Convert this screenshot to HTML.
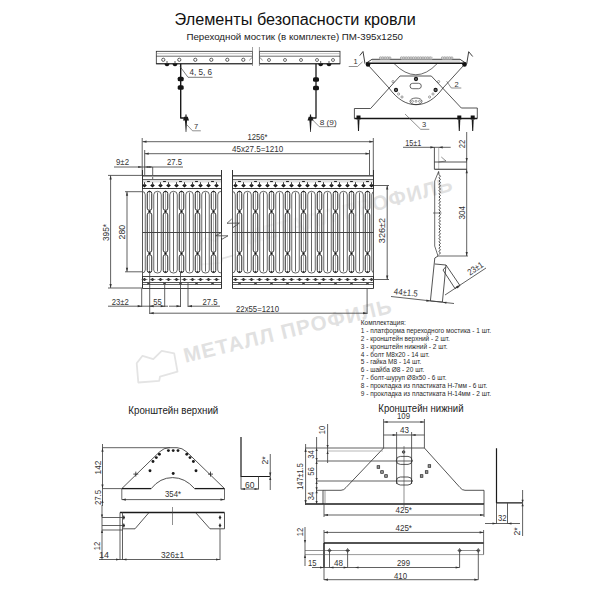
<!DOCTYPE html>
<html><head><meta charset="utf-8"><style>
html,body{margin:0;padding:0;background:#fff;width:600px;height:600px;overflow:hidden}
svg{display:block;font-family:"Liberation Sans",sans-serif}
</style></head><body>
<svg width="600" height="600" viewBox="0 0 600 600">
<rect width="600" height="600" fill="#fff"/>
<polygon points="136.70,363.30 142.50,355.80 153.30,359.20 161.70,350.80 174.20,353.30 177.50,371.70 160.00,376.70 159.20,380.80 138.30,382.50" stroke="#e4e4e4" stroke-width="1.8" fill="none" stroke-linejoin="round" />
<text x="185.50" y="362.80" font-size="20.5" fill="#e1e1e1" font-weight="bold" transform="rotate(-13.6 185.50 362.80)" textLength="213" lengthAdjust="spacing">МЕТАЛЛ ПРОФИЛЬ</text>
<polygon points="198.70,245.30 204.50,237.80 215.30,241.20 223.70,232.80 236.20,235.30 239.50,253.70 222.00,258.70 221.20,262.80 200.30,264.50" stroke="#e4e4e4" stroke-width="1.8" fill="none" stroke-linejoin="round" />
<text x="247.50" y="244.80" font-size="20.5" fill="#e1e1e1" font-weight="bold" transform="rotate(-14.8 247.50 244.80)" textLength="213" lengthAdjust="spacing">МЕТАЛЛ ПРОФИЛЬ</text>
<text x="174.60" y="24.50" font-size="15.8" text-anchor="start" fill="#111" font-weight="normal" textLength="241.2" lengthAdjust="spacingAndGlyphs" >Элементы безопасности кровли</text>
<text x="186.40" y="39.80" font-size="9.6" text-anchor="start" fill="#222" font-weight="normal" textLength="216.6" lengthAdjust="spacingAndGlyphs" >Переходной мостик (в комплекте) ПМ-395х1250</text>
<rect x="156.30" y="51.30" width="96.20" height="12.50" rx="0" stroke="#2a2a2a" stroke-width="0.8" fill="white"/>
<line x1="156.30" y1="53.60" x2="252.50" y2="53.60" stroke="#888" stroke-width="0.5" />
<line x1="156.30" y1="56.20" x2="252.50" y2="56.20" stroke="#2a2a2a" stroke-width="0.7" />
<line x1="156.30" y1="63.80" x2="252.50" y2="63.80" stroke="#2a2a2a" stroke-width="1.1" />
<rect x="259.40" y="51.30" width="80.60" height="12.50" rx="0" stroke="#2a2a2a" stroke-width="0.8" fill="white"/>
<line x1="259.40" y1="53.60" x2="340.00" y2="53.60" stroke="#888" stroke-width="0.5" />
<line x1="259.40" y1="56.20" x2="340.00" y2="56.20" stroke="#2a2a2a" stroke-width="0.7" />
<line x1="259.40" y1="63.80" x2="340.00" y2="63.80" stroke="#2a2a2a" stroke-width="1.1" />
<circle cx="163.30" cy="59.80" r="1.6" stroke="#333" stroke-width="0.8" fill="none"/>
<circle cx="179.30" cy="59.80" r="1.6" stroke="#333" stroke-width="0.8" fill="none"/>
<circle cx="195.30" cy="59.80" r="1.6" stroke="#333" stroke-width="0.8" fill="none"/>
<circle cx="211.30" cy="59.80" r="1.6" stroke="#333" stroke-width="0.8" fill="none"/>
<circle cx="227.30" cy="59.80" r="1.6" stroke="#333" stroke-width="0.8" fill="none"/>
<circle cx="243.30" cy="59.80" r="1.6" stroke="#333" stroke-width="0.8" fill="none"/>
<circle cx="269.00" cy="60.00" r="1.5" stroke="#333" stroke-width="0.7" fill="none"/>
<circle cx="285.00" cy="60.00" r="1.5" stroke="#333" stroke-width="0.7" fill="none"/>
<circle cx="301.00" cy="60.00" r="1.5" stroke="#333" stroke-width="0.7" fill="none"/>
<circle cx="317.00" cy="60.00" r="1.5" stroke="#333" stroke-width="0.7" fill="none"/>
<circle cx="333.00" cy="60.00" r="1.5" stroke="#333" stroke-width="0.7" fill="none"/>
<line x1="252.50" y1="47.00" x2="252.50" y2="66.00" stroke="#777" stroke-width="0.7" />
<line x1="259.40" y1="47.00" x2="259.40" y2="66.00" stroke="#777" stroke-width="0.7" />
<path d="M252.5,57.5 q-2,0.5 -3,3" stroke="#555" stroke-width="0.6" fill="none" />
<path d="M259.4,57.5 q2,0.5 3,3" stroke="#555" stroke-width="0.6" fill="none" />
<path d="M164.6,63.6 A2.4,2.6 0 0 0 169.4,63.6 Z" stroke="#3a3a3a" stroke-width="0" fill="#151515" />
<line x1="167.00" y1="61.00" x2="167.00" y2="64.00" stroke="#333" stroke-width="0.8" />
<path d="M172.6,63.6 A2.4,2.6 0 0 0 177.4,63.6 Z" stroke="#3a3a3a" stroke-width="0" fill="#151515" />
<line x1="175.00" y1="61.00" x2="175.00" y2="64.00" stroke="#333" stroke-width="0.8" />
<path d="M318.3,63.6 A2.4,2.6 0 0 0 323.09999999999997,63.6 Z" stroke="#3a3a3a" stroke-width="0" fill="#151515" />
<line x1="320.70" y1="61.00" x2="320.70" y2="64.00" stroke="#333" stroke-width="0.8" />
<path d="M326.6,63.6 A2.4,2.6 0 0 0 331.4,63.6 Z" stroke="#3a3a3a" stroke-width="0" fill="#151515" />
<line x1="329.00" y1="61.00" x2="329.00" y2="64.00" stroke="#333" stroke-width="0.8" />
<polyline points="180.70,63.80 180.70,118.00 186.00,118.00" stroke="#1a1a1a" stroke-width="1.4" fill="none" stroke-linejoin="round" />
<polyline points="316.00,63.80 316.00,118.00 310.40,118.00" stroke="#1a1a1a" stroke-width="1.3" fill="none" stroke-linejoin="round" />
<rect x="177.70" y="76.70" width="6.00" height="4.60" rx="1.6" stroke="#3a3a3a" stroke-width="0" fill="#151515"/>
<rect x="177.70" y="85.20" width="6.00" height="4.60" rx="1.6" stroke="#3a3a3a" stroke-width="0" fill="#151515"/>
<rect x="313.00" y="77.20" width="6.00" height="4.60" rx="1.6" stroke="#3a3a3a" stroke-width="0" fill="#151515"/>
<rect x="313.00" y="85.70" width="6.00" height="4.60" rx="1.6" stroke="#3a3a3a" stroke-width="0" fill="#151515"/>
<path d="M183,120.5 L189,120.5 L187.8,116.8 L184.2,116.8 Z" stroke="#3a3a3a" stroke-width="0" fill="#1a1a1a" />
<line x1="186.00" y1="114.50" x2="186.00" y2="118.50" stroke="#1a1a1a" stroke-width="1.2" />
<path d="M184.9,120 L187.1,120 L186.3,132 L185.7,132 Z" stroke="#3a3a3a" stroke-width="0" fill="#1a1a1a" />
<path d="M307.5,120.5 L313.5,120.5 L312.3,116.8 L308.7,116.8 Z" stroke="#3a3a3a" stroke-width="0" fill="#1a1a1a" />
<line x1="310.50" y1="114.50" x2="310.50" y2="118.50" stroke="#1a1a1a" stroke-width="1.2" />
<path d="M309.4,120 L311.6,120 L310.8,132 L310.2,132 Z" stroke="#3a3a3a" stroke-width="0" fill="#1a1a1a" />
<polyline points="180.00,66.50 188.00,77.30 212.50,77.30" stroke="#444" stroke-width="0.7" fill="none" stroke-linejoin="round" />
<text x="189.50" y="74.80" font-size="8.2" text-anchor="start" fill="#333" font-weight="normal" textLength="22.5" lengthAdjust="spacingAndGlyphs" >4, 5, 6</text>
<polyline points="185.80,123.70 192.50,130.80 200.80,130.80" stroke="#444" stroke-width="0.6" fill="none" stroke-linejoin="round" />
<text x="194.00" y="129.20" font-size="7.5" text-anchor="start" fill="#333" font-weight="normal" >7</text>
<polyline points="312.00,119.30 319.30,126.70 336.00,126.70" stroke="#444" stroke-width="0.6" fill="none" stroke-linejoin="round" />
<text x="319.70" y="125.00" font-size="7.5" text-anchor="start" fill="#333" font-weight="normal" textLength="17" lengthAdjust="spacingAndGlyphs" >8 (9)</text>
<path d="M354.4,118.5 L354.4,108.5 L370.6,108.5 L400,76 L431.3,76 L461.3,108 L477.3,108 L477.3,118.5" stroke="#2a2a2a" stroke-width="0.8" fill="none" />
<path d="M368,65 L389,88 C397,99 406,104.7 416,104.7 C426,104.7 435,99 443,88 L464,65" stroke="#2a2a2a" stroke-width="0.8" fill="none" />
<path d="M394,63.5 Q416,86 437.3,63.5" stroke="#2a2a2a" stroke-width="0.7" fill="none" />
<path d="M366,63.3 L372,59.3 L460,59.3 L466,63.3" stroke="#2a2a2a" stroke-width="0.9" fill="none" />
<line x1="366.00" y1="63.30" x2="466.00" y2="63.30" stroke="#151515" stroke-width="1.5" />
<line x1="372.00" y1="61.00" x2="460.00" y2="61.00" stroke="#777" stroke-width="0.5" />
<rect x="379.00" y="56.60" width="12.00" height="2.80" rx="1.4" stroke="#3a3a3a" stroke-width="0" fill="#d5d5d5"/>
<circle cx="380.40" cy="58.00" r="1.05" stroke="#777" stroke-width="0.5" fill="#eee"/>
<circle cx="382.80" cy="58.00" r="1.05" stroke="#777" stroke-width="0.5" fill="#eee"/>
<circle cx="385.20" cy="58.00" r="1.05" stroke="#777" stroke-width="0.5" fill="#eee"/>
<circle cx="387.60" cy="58.00" r="1.05" stroke="#777" stroke-width="0.5" fill="#eee"/>
<circle cx="390.00" cy="58.00" r="1.05" stroke="#777" stroke-width="0.5" fill="#eee"/>
<rect x="400.00" y="56.60" width="33.00" height="2.80" rx="1.4" stroke="#3a3a3a" stroke-width="0" fill="#d5d5d5"/>
<circle cx="401.40" cy="58.00" r="1.05" stroke="#777" stroke-width="0.5" fill="#eee"/>
<circle cx="403.80" cy="58.00" r="1.05" stroke="#777" stroke-width="0.5" fill="#eee"/>
<circle cx="406.20" cy="58.00" r="1.05" stroke="#777" stroke-width="0.5" fill="#eee"/>
<circle cx="408.60" cy="58.00" r="1.05" stroke="#777" stroke-width="0.5" fill="#eee"/>
<circle cx="411.00" cy="58.00" r="1.05" stroke="#777" stroke-width="0.5" fill="#eee"/>
<circle cx="413.40" cy="58.00" r="1.05" stroke="#777" stroke-width="0.5" fill="#eee"/>
<circle cx="415.80" cy="58.00" r="1.05" stroke="#777" stroke-width="0.5" fill="#eee"/>
<circle cx="418.20" cy="58.00" r="1.05" stroke="#777" stroke-width="0.5" fill="#eee"/>
<circle cx="420.60" cy="58.00" r="1.05" stroke="#777" stroke-width="0.5" fill="#eee"/>
<circle cx="423.00" cy="58.00" r="1.05" stroke="#777" stroke-width="0.5" fill="#eee"/>
<circle cx="425.40" cy="58.00" r="1.05" stroke="#777" stroke-width="0.5" fill="#eee"/>
<circle cx="427.80" cy="58.00" r="1.05" stroke="#777" stroke-width="0.5" fill="#eee"/>
<circle cx="430.20" cy="58.00" r="1.05" stroke="#777" stroke-width="0.5" fill="#eee"/>
<rect x="441.00" y="56.60" width="12.00" height="2.80" rx="1.4" stroke="#3a3a3a" stroke-width="0" fill="#d5d5d5"/>
<circle cx="442.40" cy="58.00" r="1.05" stroke="#777" stroke-width="0.5" fill="#eee"/>
<circle cx="444.80" cy="58.00" r="1.05" stroke="#777" stroke-width="0.5" fill="#eee"/>
<circle cx="447.20" cy="58.00" r="1.05" stroke="#777" stroke-width="0.5" fill="#eee"/>
<circle cx="449.60" cy="58.00" r="1.05" stroke="#777" stroke-width="0.5" fill="#eee"/>
<circle cx="452.00" cy="58.00" r="1.05" stroke="#777" stroke-width="0.5" fill="#eee"/>
<polyline points="359.75,55.60 363.00,51.50 365.00,63.75" stroke="#2a2a2a" stroke-width="0.9" fill="none" stroke-linejoin="round" />
<polyline points="466.70,64.00 468.70,51.70 472.70,56.50" stroke="#2a2a2a" stroke-width="0.9" fill="none" stroke-linejoin="round" />
<circle cx="368.00" cy="64.50" r="2.3" stroke="#3a3a3a" stroke-width="0" fill="#111"/>
<circle cx="464.50" cy="64.50" r="2.3" stroke="#3a3a3a" stroke-width="0" fill="#111"/>
<circle cx="416.00" cy="79.00" r="1.6" stroke="#1a1a1a" stroke-width="1.1" fill="#666"/>
<circle cx="396.00" cy="90.00" r="1.6" stroke="#1a1a1a" stroke-width="1.1" fill="#666"/>
<circle cx="435.60" cy="90.00" r="1.6" stroke="#1a1a1a" stroke-width="1.1" fill="#666"/>
<circle cx="393.00" cy="81.60" r="1.1" stroke="#444" stroke-width="0.5" fill="none"/>
<circle cx="438.60" cy="81.60" r="1.1" stroke="#444" stroke-width="0.5" fill="none"/>
<circle cx="398.60" cy="94.00" r="1.1" stroke="#444" stroke-width="0.5" fill="none"/>
<circle cx="402.00" cy="97.00" r="1.1" stroke="#444" stroke-width="0.5" fill="none"/>
<circle cx="433.00" cy="94.00" r="1.1" stroke="#444" stroke-width="0.5" fill="none"/>
<circle cx="429.60" cy="97.00" r="1.1" stroke="#444" stroke-width="0.5" fill="none"/>
<rect x="410.00" y="83.30" width="11.30" height="5.40" rx="2.7" stroke="#2a2a2a" stroke-width="0.7" fill="none"/>
<ellipse cx="416.00" cy="101.30" rx="6" ry="3.3" stroke="#2a2a2a" stroke-width="0.7" fill="none"/>
<circle cx="412.50" cy="101.30" r="1.0" stroke="#444" stroke-width="0.5" fill="none"/>
<circle cx="416.00" cy="101.30" r="1.0" stroke="#444" stroke-width="0.5" fill="none"/>
<circle cx="419.50" cy="101.30" r="1.0" stroke="#444" stroke-width="0.5" fill="none"/>
<line x1="354.40" y1="118.50" x2="477.30" y2="118.50" stroke="#151515" stroke-width="1.5" />
<rect x="356.50" y="115.50" width="4.00" height="4.00" rx="0" stroke="#3a3a3a" stroke-width="0" fill="#111"/>
<path d="M357.5,119.5 L359.5,119.5 L359.0,131 L358.0,131 Z" stroke="#3a3a3a" stroke-width="0" fill="#1a1a1a" />
<rect x="457.30" y="115.50" width="4.00" height="4.00" rx="0" stroke="#3a3a3a" stroke-width="0" fill="#111"/>
<path d="M458.3,119.5 L460.3,119.5 L459.8,131 L458.8,131 Z" stroke="#3a3a3a" stroke-width="0" fill="#1a1a1a" />
<rect x="470.70" y="115.50" width="4.00" height="4.00" rx="0" stroke="#3a3a3a" stroke-width="0" fill="#111"/>
<path d="M471.7,119.5 L473.7,119.5 L473.2,131 L472.2,131 Z" stroke="#3a3a3a" stroke-width="0" fill="#1a1a1a" />
<polyline points="348.75,66.50 357.50,66.50 362.50,61.90" stroke="#444" stroke-width="0.6" fill="none" stroke-linejoin="round" />
<text x="353.50" y="64.40" font-size="7.5" text-anchor="start" fill="#333" font-weight="normal" >1</text>
<polyline points="446.70,81.30 451.30,88.00 461.30,88.00" stroke="#444" stroke-width="0.6" fill="none" stroke-linejoin="round" />
<text x="454.50" y="86.70" font-size="7.5" text-anchor="start" fill="#333" font-weight="normal" >2</text>
<polyline points="405.00,114.00 420.70,129.30 429.30,129.30" stroke="#444" stroke-width="0.6" fill="none" stroke-linejoin="round" />
<text x="422.00" y="127.30" font-size="7.5" text-anchor="start" fill="#333" font-weight="normal" >3</text>
<line x1="142.50" y1="141.70" x2="373.30" y2="141.70" stroke="#444" stroke-width="0.85" />
<polygon points="142.50,141.70 146.50,140.60 146.50,142.80" fill="#333"/>
<polygon points="373.30,141.70 369.30,142.80 369.30,140.60" fill="#333"/>
<text x="247.50" y="140.00" font-size="9" text-anchor="start" fill="#333" font-weight="normal" textLength="20" lengthAdjust="spacingAndGlyphs" >1256*</text>
<line x1="144.70" y1="153.70" x2="369.50" y2="153.70" stroke="#444" stroke-width="0.85" />
<polygon points="144.70,153.70 148.70,152.60 148.70,154.80" fill="#333"/>
<polygon points="369.50,153.70 365.50,154.80 365.50,152.60" fill="#333"/>
<text x="232.00" y="151.80" font-size="9" text-anchor="start" fill="#333" font-weight="normal" textLength="51.3" lengthAdjust="spacingAndGlyphs" >45x27.5=1210</text>
<line x1="142.20" y1="138.00" x2="142.20" y2="175.00" stroke="#444" stroke-width="0.85" />
<line x1="144.70" y1="150.00" x2="144.70" y2="175.00" stroke="#444" stroke-width="0.85" />
<line x1="373.30" y1="138.00" x2="373.30" y2="175.00" stroke="#444" stroke-width="0.85" />
<line x1="369.50" y1="150.00" x2="369.50" y2="175.00" stroke="#444" stroke-width="0.85" />
<line x1="114.00" y1="167.00" x2="183.00" y2="167.00" stroke="#444" stroke-width="0.85" />
<polygon points="142.20,167.00 138.20,168.10 138.20,165.90" fill="#333"/>
<polygon points="144.70,167.00 148.70,165.90 148.70,168.10" fill="#333"/>
<polygon points="152.70,167.00 149.20,168.10 149.20,165.90" fill="#333"/>
<text x="116.00" y="165.00" font-size="9" text-anchor="start" fill="#333" font-weight="normal" textLength="13" lengthAdjust="spacingAndGlyphs" >9±2</text>
<text x="167.00" y="165.00" font-size="9" text-anchor="start" fill="#333" font-weight="normal" textLength="15" lengthAdjust="spacingAndGlyphs" >27.5</text>
<line x1="152.70" y1="167.00" x2="152.70" y2="185.00" stroke="#444" stroke-width="0.85" />
<line x1="110.60" y1="175.40" x2="110.60" y2="288.00" stroke="#444" stroke-width="0.85" />
<polygon points="110.60,175.40 111.70,179.40 109.50,179.40" fill="#333"/>
<polygon points="110.60,288.00 109.50,284.00 111.70,284.00" fill="#333"/>
<line x1="108.00" y1="175.40" x2="142.20" y2="175.40" stroke="#444" stroke-width="0.85" />
<line x1="108.00" y1="288.00" x2="142.20" y2="288.00" stroke="#444" stroke-width="0.85" />
<text x="108.50" y="232.50" font-size="9" text-anchor="middle" fill="#333" font-weight="normal" transform="rotate(-90 108.50 232.50)" textLength="17" lengthAdjust="spacingAndGlyphs" >395*</text>
<line x1="127.00" y1="191.70" x2="127.00" y2="271.80" stroke="#444" stroke-width="0.85" />
<polygon points="127.00,191.70 128.10,195.70 125.90,195.70" fill="#333"/>
<polygon points="127.00,271.80 125.90,267.80 128.10,267.80" fill="#333"/>
<line x1="125.00" y1="191.70" x2="142.20" y2="191.70" stroke="#444" stroke-width="0.85" />
<line x1="125.00" y1="271.80" x2="142.20" y2="271.80" stroke="#444" stroke-width="0.85" />
<text x="125.00" y="232.20" font-size="9" text-anchor="middle" fill="#333" font-weight="normal" transform="rotate(-90 125.00 232.20)" textLength="14.5" lengthAdjust="spacingAndGlyphs" >280</text>
<line x1="373.30" y1="185.50" x2="389.00" y2="185.50" stroke="#444" stroke-width="0.85" />
<line x1="373.30" y1="279.50" x2="389.00" y2="279.50" stroke="#444" stroke-width="0.85" />
<line x1="387.20" y1="185.50" x2="387.20" y2="279.50" stroke="#444" stroke-width="0.85" />
<polygon points="387.20,185.50 388.30,189.50 386.10,189.50" fill="#333"/>
<polygon points="387.20,279.50 386.10,275.50 388.30,275.50" fill="#333"/>
<text x="385.00" y="230.50" font-size="9.4" text-anchor="middle" fill="#333" font-weight="normal" transform="rotate(-90 385.00 230.50)" textLength="25.3" lengthAdjust="spacingAndGlyphs" >326±2</text>
<line x1="142.50" y1="175.50" x2="221.50" y2="175.50" stroke="#555" stroke-width="1" />
<rect x="142.50" y="176.00" width="79.00" height="1.00" rx="0" stroke="#3a3a3a" stroke-width="0" fill="#a0a0a0"/>
<line x1="142.50" y1="179.50" x2="221.50" y2="179.50" stroke="#666" stroke-width="1" />
<rect x="142.50" y="180.00" width="79.00" height="2.50" rx="0" stroke="#3a3a3a" stroke-width="0" fill="#e0e0e0"/>
<line x1="142.50" y1="188.50" x2="221.50" y2="188.50" stroke="#333" stroke-width="1" />
<line x1="142.50" y1="276.50" x2="221.50" y2="276.50" stroke="#444" stroke-width="1" />
<line x1="142.50" y1="282.50" x2="221.50" y2="282.50" stroke="#555" stroke-width="1" />
<line x1="142.50" y1="284.50" x2="221.50" y2="284.50" stroke="#666" stroke-width="1" />
<line x1="142.50" y1="288.50" x2="221.50" y2="288.50" stroke="#444" stroke-width="1" />
<line x1="142.50" y1="170.00" x2="142.50" y2="288.50" stroke="#333" stroke-width="1" />
<line x1="221.50" y1="170.00" x2="221.50" y2="288.50" stroke="#333" stroke-width="1" />
<path d="M142.2,185.5 L144.5,183.6 L146.8,185.5 L144.5,187.4 Z" stroke="#3a3a3a" stroke-width="0" fill="#151515" />
<line x1="144.50" y1="182.20" x2="144.50" y2="185.50" stroke="#444" stroke-width="1" />
<path d="M142.2,279.5 L144.5,277.9 L146.8,279.5 L144.5,281.1 Z" stroke="#3a3a3a" stroke-width="0" fill="#151515" />
<line x1="141.30" y1="279.50" x2="147.70" y2="279.50" stroke="#666" stroke-width="0.5" />
<line x1="147.10" y1="181.50" x2="149.90" y2="181.50" stroke="#222" stroke-width="1.1" />
<path d="M147.0,282.8 L150.0,284.2 M147.0,284.2 L150.0,282.8" stroke="#333" stroke-width="0.8" fill="none" />
<path d="M150.2,185.5 L152.5,183.6 L154.8,185.5 L152.5,187.4 Z" stroke="#3a3a3a" stroke-width="0" fill="#151515" />
<line x1="152.50" y1="182.20" x2="152.50" y2="185.50" stroke="#444" stroke-width="1" />
<path d="M150.2,279.5 L152.5,277.9 L154.8,279.5 L152.5,281.1 Z" stroke="#3a3a3a" stroke-width="0" fill="#151515" />
<line x1="149.30" y1="279.50" x2="155.70" y2="279.50" stroke="#666" stroke-width="0.5" />
<path d="M158.2,185.5 L160.5,183.6 L162.8,185.5 L160.5,187.4 Z" stroke="#3a3a3a" stroke-width="0" fill="#151515" />
<line x1="160.50" y1="182.20" x2="160.50" y2="185.50" stroke="#444" stroke-width="1" />
<path d="M158.2,279.5 L160.5,277.9 L162.8,279.5 L160.5,281.1 Z" stroke="#3a3a3a" stroke-width="0" fill="#151515" />
<line x1="157.30" y1="279.50" x2="163.70" y2="279.50" stroke="#666" stroke-width="0.5" />
<line x1="163.10" y1="181.50" x2="165.90" y2="181.50" stroke="#222" stroke-width="1.1" />
<path d="M163.0,282.8 L166.0,284.2 M163.0,284.2 L166.0,282.8" stroke="#333" stroke-width="0.8" fill="none" />
<path d="M166.2,185.5 L168.5,183.6 L170.8,185.5 L168.5,187.4 Z" stroke="#3a3a3a" stroke-width="0" fill="#151515" />
<line x1="168.50" y1="182.20" x2="168.50" y2="185.50" stroke="#444" stroke-width="1" />
<path d="M166.2,279.5 L168.5,277.9 L170.8,279.5 L168.5,281.1 Z" stroke="#3a3a3a" stroke-width="0" fill="#151515" />
<line x1="165.30" y1="279.50" x2="171.70" y2="279.50" stroke="#666" stroke-width="0.5" />
<path d="M174.2,185.5 L176.5,183.6 L178.8,185.5 L176.5,187.4 Z" stroke="#3a3a3a" stroke-width="0" fill="#151515" />
<line x1="176.50" y1="182.20" x2="176.50" y2="185.50" stroke="#444" stroke-width="1" />
<path d="M174.2,279.5 L176.5,277.9 L178.8,279.5 L176.5,281.1 Z" stroke="#3a3a3a" stroke-width="0" fill="#151515" />
<line x1="173.30" y1="279.50" x2="179.70" y2="279.50" stroke="#666" stroke-width="0.5" />
<line x1="179.10" y1="181.50" x2="181.90" y2="181.50" stroke="#222" stroke-width="1.1" />
<path d="M179.0,282.8 L182.0,284.2 M179.0,284.2 L182.0,282.8" stroke="#333" stroke-width="0.8" fill="none" />
<path d="M182.2,185.5 L184.5,183.6 L186.8,185.5 L184.5,187.4 Z" stroke="#3a3a3a" stroke-width="0" fill="#151515" />
<line x1="184.50" y1="182.20" x2="184.50" y2="185.50" stroke="#444" stroke-width="1" />
<path d="M182.2,279.5 L184.5,277.9 L186.8,279.5 L184.5,281.1 Z" stroke="#3a3a3a" stroke-width="0" fill="#151515" />
<line x1="181.30" y1="279.50" x2="187.70" y2="279.50" stroke="#666" stroke-width="0.5" />
<path d="M190.2,185.5 L192.5,183.6 L194.8,185.5 L192.5,187.4 Z" stroke="#3a3a3a" stroke-width="0" fill="#151515" />
<line x1="192.50" y1="182.20" x2="192.50" y2="185.50" stroke="#444" stroke-width="1" />
<path d="M190.2,279.5 L192.5,277.9 L194.8,279.5 L192.5,281.1 Z" stroke="#3a3a3a" stroke-width="0" fill="#151515" />
<line x1="189.30" y1="279.50" x2="195.70" y2="279.50" stroke="#666" stroke-width="0.5" />
<line x1="195.10" y1="181.50" x2="197.90" y2="181.50" stroke="#222" stroke-width="1.1" />
<path d="M195.0,282.8 L198.0,284.2 M195.0,284.2 L198.0,282.8" stroke="#333" stroke-width="0.8" fill="none" />
<path d="M198.2,185.5 L200.5,183.6 L202.8,185.5 L200.5,187.4 Z" stroke="#3a3a3a" stroke-width="0" fill="#151515" />
<line x1="200.50" y1="182.20" x2="200.50" y2="185.50" stroke="#444" stroke-width="1" />
<path d="M198.2,279.5 L200.5,277.9 L202.8,279.5 L200.5,281.1 Z" stroke="#3a3a3a" stroke-width="0" fill="#151515" />
<line x1="197.30" y1="279.50" x2="203.70" y2="279.50" stroke="#666" stroke-width="0.5" />
<path d="M206.2,185.5 L208.5,183.6 L210.8,185.5 L208.5,187.4 Z" stroke="#3a3a3a" stroke-width="0" fill="#151515" />
<line x1="208.50" y1="182.20" x2="208.50" y2="185.50" stroke="#444" stroke-width="1" />
<path d="M206.2,279.5 L208.5,277.9 L210.8,279.5 L208.5,281.1 Z" stroke="#3a3a3a" stroke-width="0" fill="#151515" />
<line x1="205.30" y1="279.50" x2="211.70" y2="279.50" stroke="#666" stroke-width="0.5" />
<line x1="211.10" y1="181.50" x2="213.90" y2="181.50" stroke="#222" stroke-width="1.1" />
<path d="M211.0,282.8 L214.0,284.2 M211.0,284.2 L214.0,282.8" stroke="#333" stroke-width="0.8" fill="none" />
<path d="M214.2,185.5 L216.5,183.6 L218.8,185.5 L216.5,187.4 Z" stroke="#3a3a3a" stroke-width="0" fill="#151515" />
<line x1="216.50" y1="182.20" x2="216.50" y2="185.50" stroke="#444" stroke-width="1" />
<path d="M214.2,279.5 L216.5,277.9 L218.8,279.5 L216.5,281.1 Z" stroke="#3a3a3a" stroke-width="0" fill="#151515" />
<line x1="213.30" y1="279.50" x2="219.70" y2="279.50" stroke="#666" stroke-width="0.5" />
<clipPath id="clip142"><rect x="142.5" y="189" width="79.0" height="87"/></clipPath>
<g clip-path="url(#clip142)">
<rect x="142.5" y="189" width="79.0" height="87" fill="rgba(255,255,255,0.7)"/>
<path d="M137.75,270 L137.75,194.8 Q137.75,191.3 141.5,191.3 Q145.25,191.3 145.25,194.8 L145.25,270 Q145.25,273 141.5,273 Q137.75,273 137.75,270" stroke="#555" stroke-width="0.9" fill="none" />
<line x1="141.50" y1="192.50" x2="141.50" y2="271.50" stroke="#555" stroke-width="0.9" />
<rect x="147.25" y="191.30" width="4.50" height="19.10" rx="2.25" stroke="#2a2a2a" stroke-width="1.0" fill="none"/>
<rect x="147.25" y="212.60" width="4.50" height="39.80" rx="2.25" stroke="#2a2a2a" stroke-width="1.0" fill="none"/>
<rect x="147.25" y="254.60" width="4.50" height="18.00" rx="2.25" stroke="#2a2a2a" stroke-width="1.0" fill="none"/>
<line x1="149.50" y1="193.00" x2="149.50" y2="271.00" stroke="#777" stroke-width="0.6" />
<ellipse cx="149.50" cy="211.50" rx="1.2" ry="1.1" stroke="#3a3a3a" stroke-width="0" fill="#111"/>
<ellipse cx="149.50" cy="253.50" rx="1.2" ry="1.1" stroke="#3a3a3a" stroke-width="0" fill="#111"/>
<circle cx="149.50" cy="191.60" r="0.9" stroke="#3a3a3a" stroke-width="0" fill="#222"/>
<circle cx="149.50" cy="271.80" r="0.9" stroke="#3a3a3a" stroke-width="0" fill="#222"/>
<path d="M153.75,270 L153.75,194.8 Q153.75,191.3 157.5,191.3 Q161.25,191.3 161.25,194.8 L161.25,270 Q161.25,273 157.5,273 Q153.75,273 153.75,270" stroke="#555" stroke-width="0.9" fill="none" />
<line x1="157.50" y1="192.50" x2="157.50" y2="271.50" stroke="#555" stroke-width="0.9" />
<rect x="163.25" y="191.30" width="4.50" height="19.10" rx="2.25" stroke="#2a2a2a" stroke-width="1.0" fill="none"/>
<rect x="163.25" y="212.60" width="4.50" height="39.80" rx="2.25" stroke="#2a2a2a" stroke-width="1.0" fill="none"/>
<rect x="163.25" y="254.60" width="4.50" height="18.00" rx="2.25" stroke="#2a2a2a" stroke-width="1.0" fill="none"/>
<line x1="165.50" y1="193.00" x2="165.50" y2="271.00" stroke="#777" stroke-width="0.6" />
<ellipse cx="165.50" cy="211.50" rx="1.2" ry="1.1" stroke="#3a3a3a" stroke-width="0" fill="#111"/>
<ellipse cx="165.50" cy="253.50" rx="1.2" ry="1.1" stroke="#3a3a3a" stroke-width="0" fill="#111"/>
<circle cx="165.50" cy="191.60" r="0.9" stroke="#3a3a3a" stroke-width="0" fill="#222"/>
<circle cx="165.50" cy="271.80" r="0.9" stroke="#3a3a3a" stroke-width="0" fill="#222"/>
<path d="M169.75,270 L169.75,194.8 Q169.75,191.3 173.5,191.3 Q177.25,191.3 177.25,194.8 L177.25,270 Q177.25,273 173.5,273 Q169.75,273 169.75,270" stroke="#555" stroke-width="0.9" fill="none" />
<line x1="173.50" y1="192.50" x2="173.50" y2="271.50" stroke="#555" stroke-width="0.9" />
<rect x="179.25" y="191.30" width="4.50" height="19.10" rx="2.25" stroke="#2a2a2a" stroke-width="1.0" fill="none"/>
<rect x="179.25" y="212.60" width="4.50" height="39.80" rx="2.25" stroke="#2a2a2a" stroke-width="1.0" fill="none"/>
<rect x="179.25" y="254.60" width="4.50" height="18.00" rx="2.25" stroke="#2a2a2a" stroke-width="1.0" fill="none"/>
<line x1="181.50" y1="193.00" x2="181.50" y2="271.00" stroke="#777" stroke-width="0.6" />
<ellipse cx="181.50" cy="211.50" rx="1.2" ry="1.1" stroke="#3a3a3a" stroke-width="0" fill="#111"/>
<ellipse cx="181.50" cy="253.50" rx="1.2" ry="1.1" stroke="#3a3a3a" stroke-width="0" fill="#111"/>
<circle cx="181.50" cy="191.60" r="0.9" stroke="#3a3a3a" stroke-width="0" fill="#222"/>
<circle cx="181.50" cy="271.80" r="0.9" stroke="#3a3a3a" stroke-width="0" fill="#222"/>
<path d="M185.75,270 L185.75,194.8 Q185.75,191.3 189.5,191.3 Q193.25,191.3 193.25,194.8 L193.25,270 Q193.25,273 189.5,273 Q185.75,273 185.75,270" stroke="#555" stroke-width="0.9" fill="none" />
<line x1="189.50" y1="192.50" x2="189.50" y2="271.50" stroke="#555" stroke-width="0.9" />
<rect x="195.25" y="191.30" width="4.50" height="19.10" rx="2.25" stroke="#2a2a2a" stroke-width="1.0" fill="none"/>
<rect x="195.25" y="212.60" width="4.50" height="39.80" rx="2.25" stroke="#2a2a2a" stroke-width="1.0" fill="none"/>
<rect x="195.25" y="254.60" width="4.50" height="18.00" rx="2.25" stroke="#2a2a2a" stroke-width="1.0" fill="none"/>
<line x1="197.50" y1="193.00" x2="197.50" y2="271.00" stroke="#777" stroke-width="0.6" />
<ellipse cx="197.50" cy="211.50" rx="1.2" ry="1.1" stroke="#3a3a3a" stroke-width="0" fill="#111"/>
<ellipse cx="197.50" cy="253.50" rx="1.2" ry="1.1" stroke="#3a3a3a" stroke-width="0" fill="#111"/>
<circle cx="197.50" cy="191.60" r="0.9" stroke="#3a3a3a" stroke-width="0" fill="#222"/>
<circle cx="197.50" cy="271.80" r="0.9" stroke="#3a3a3a" stroke-width="0" fill="#222"/>
<path d="M201.75,270 L201.75,194.8 Q201.75,191.3 205.5,191.3 Q209.25,191.3 209.25,194.8 L209.25,270 Q209.25,273 205.5,273 Q201.75,273 201.75,270" stroke="#555" stroke-width="0.9" fill="none" />
<line x1="205.50" y1="192.50" x2="205.50" y2="271.50" stroke="#555" stroke-width="0.9" />
<rect x="211.25" y="191.30" width="4.50" height="19.10" rx="2.25" stroke="#2a2a2a" stroke-width="1.0" fill="none"/>
<rect x="211.25" y="212.60" width="4.50" height="39.80" rx="2.25" stroke="#2a2a2a" stroke-width="1.0" fill="none"/>
<rect x="211.25" y="254.60" width="4.50" height="18.00" rx="2.25" stroke="#2a2a2a" stroke-width="1.0" fill="none"/>
<line x1="213.50" y1="193.00" x2="213.50" y2="271.00" stroke="#777" stroke-width="0.6" />
<ellipse cx="213.50" cy="211.50" rx="1.2" ry="1.1" stroke="#3a3a3a" stroke-width="0" fill="#111"/>
<ellipse cx="213.50" cy="253.50" rx="1.2" ry="1.1" stroke="#3a3a3a" stroke-width="0" fill="#111"/>
<circle cx="213.50" cy="191.60" r="0.9" stroke="#3a3a3a" stroke-width="0" fill="#222"/>
<circle cx="213.50" cy="271.80" r="0.9" stroke="#3a3a3a" stroke-width="0" fill="#222"/>
<path d="M217.75,270 L217.75,194.8 Q217.75,191.3 221.5,191.3 Q225.25,191.3 225.25,194.8 L225.25,270 Q225.25,273 221.5,273 Q217.75,273 217.75,270" stroke="#555" stroke-width="0.9" fill="none" />
<line x1="221.50" y1="192.50" x2="221.50" y2="271.50" stroke="#555" stroke-width="0.9" />
</g>
<line x1="142.50" y1="232.50" x2="221.50" y2="232.50" stroke="#444" stroke-width="1" />
<line x1="232.50" y1="175.50" x2="373.50" y2="175.50" stroke="#555" stroke-width="1" />
<rect x="232.50" y="176.00" width="141.00" height="1.00" rx="0" stroke="#3a3a3a" stroke-width="0" fill="#a0a0a0"/>
<line x1="232.50" y1="179.50" x2="373.50" y2="179.50" stroke="#666" stroke-width="1" />
<rect x="232.50" y="180.00" width="141.00" height="2.50" rx="0" stroke="#3a3a3a" stroke-width="0" fill="#e0e0e0"/>
<line x1="232.50" y1="188.50" x2="373.50" y2="188.50" stroke="#333" stroke-width="1" />
<line x1="232.50" y1="276.50" x2="373.50" y2="276.50" stroke="#444" stroke-width="1" />
<line x1="232.50" y1="282.50" x2="373.50" y2="282.50" stroke="#555" stroke-width="1" />
<line x1="232.50" y1="284.50" x2="373.50" y2="284.50" stroke="#666" stroke-width="1" />
<line x1="232.50" y1="288.50" x2="373.50" y2="288.50" stroke="#444" stroke-width="1" />
<line x1="232.50" y1="170.00" x2="232.50" y2="288.50" stroke="#333" stroke-width="1" />
<line x1="373.50" y1="170.00" x2="373.50" y2="288.50" stroke="#333" stroke-width="1" />
<path d="M233.2,185.5 L235.5,183.6 L237.8,185.5 L235.5,187.4 Z" stroke="#3a3a3a" stroke-width="0" fill="#151515" />
<line x1="235.50" y1="182.20" x2="235.50" y2="185.50" stroke="#444" stroke-width="1" />
<path d="M233.2,279.5 L235.5,277.9 L237.8,279.5 L235.5,281.1 Z" stroke="#3a3a3a" stroke-width="0" fill="#151515" />
<line x1="232.30" y1="279.50" x2="238.70" y2="279.50" stroke="#666" stroke-width="0.5" />
<line x1="238.10" y1="181.50" x2="240.90" y2="181.50" stroke="#222" stroke-width="1.1" />
<path d="M238.0,282.8 L241.0,284.2 M238.0,284.2 L241.0,282.8" stroke="#333" stroke-width="0.8" fill="none" />
<path d="M241.2,185.5 L243.5,183.6 L245.8,185.5 L243.5,187.4 Z" stroke="#3a3a3a" stroke-width="0" fill="#151515" />
<line x1="243.50" y1="182.20" x2="243.50" y2="185.50" stroke="#444" stroke-width="1" />
<path d="M241.2,279.5 L243.5,277.9 L245.8,279.5 L243.5,281.1 Z" stroke="#3a3a3a" stroke-width="0" fill="#151515" />
<line x1="240.30" y1="279.50" x2="246.70" y2="279.50" stroke="#666" stroke-width="0.5" />
<path d="M249.2,185.5 L251.5,183.6 L253.8,185.5 L251.5,187.4 Z" stroke="#3a3a3a" stroke-width="0" fill="#151515" />
<line x1="251.50" y1="182.20" x2="251.50" y2="185.50" stroke="#444" stroke-width="1" />
<path d="M249.2,279.5 L251.5,277.9 L253.8,279.5 L251.5,281.1 Z" stroke="#3a3a3a" stroke-width="0" fill="#151515" />
<line x1="248.30" y1="279.50" x2="254.70" y2="279.50" stroke="#666" stroke-width="0.5" />
<line x1="254.10" y1="181.50" x2="256.90" y2="181.50" stroke="#222" stroke-width="1.1" />
<path d="M254.0,282.8 L257.0,284.2 M254.0,284.2 L257.0,282.8" stroke="#333" stroke-width="0.8" fill="none" />
<path d="M257.2,185.5 L259.5,183.6 L261.8,185.5 L259.5,187.4 Z" stroke="#3a3a3a" stroke-width="0" fill="#151515" />
<line x1="259.50" y1="182.20" x2="259.50" y2="185.50" stroke="#444" stroke-width="1" />
<path d="M257.2,279.5 L259.5,277.9 L261.8,279.5 L259.5,281.1 Z" stroke="#3a3a3a" stroke-width="0" fill="#151515" />
<line x1="256.30" y1="279.50" x2="262.70" y2="279.50" stroke="#666" stroke-width="0.5" />
<path d="M265.2,185.5 L267.5,183.6 L269.8,185.5 L267.5,187.4 Z" stroke="#3a3a3a" stroke-width="0" fill="#151515" />
<line x1="267.50" y1="182.20" x2="267.50" y2="185.50" stroke="#444" stroke-width="1" />
<path d="M265.2,279.5 L267.5,277.9 L269.8,279.5 L267.5,281.1 Z" stroke="#3a3a3a" stroke-width="0" fill="#151515" />
<line x1="264.30" y1="279.50" x2="270.70" y2="279.50" stroke="#666" stroke-width="0.5" />
<line x1="270.10" y1="181.50" x2="272.90" y2="181.50" stroke="#222" stroke-width="1.1" />
<path d="M270.0,282.8 L273.0,284.2 M270.0,284.2 L273.0,282.8" stroke="#333" stroke-width="0.8" fill="none" />
<path d="M273.2,185.5 L275.5,183.6 L277.8,185.5 L275.5,187.4 Z" stroke="#3a3a3a" stroke-width="0" fill="#151515" />
<line x1="275.50" y1="182.20" x2="275.50" y2="185.50" stroke="#444" stroke-width="1" />
<path d="M273.2,279.5 L275.5,277.9 L277.8,279.5 L275.5,281.1 Z" stroke="#3a3a3a" stroke-width="0" fill="#151515" />
<line x1="272.30" y1="279.50" x2="278.70" y2="279.50" stroke="#666" stroke-width="0.5" />
<path d="M281.2,185.5 L283.5,183.6 L285.8,185.5 L283.5,187.4 Z" stroke="#3a3a3a" stroke-width="0" fill="#151515" />
<line x1="283.50" y1="182.20" x2="283.50" y2="185.50" stroke="#444" stroke-width="1" />
<path d="M281.2,279.5 L283.5,277.9 L285.8,279.5 L283.5,281.1 Z" stroke="#3a3a3a" stroke-width="0" fill="#151515" />
<line x1="280.30" y1="279.50" x2="286.70" y2="279.50" stroke="#666" stroke-width="0.5" />
<line x1="286.10" y1="181.50" x2="288.90" y2="181.50" stroke="#222" stroke-width="1.1" />
<path d="M286.0,282.8 L289.0,284.2 M286.0,284.2 L289.0,282.8" stroke="#333" stroke-width="0.8" fill="none" />
<path d="M289.2,185.5 L291.5,183.6 L293.8,185.5 L291.5,187.4 Z" stroke="#3a3a3a" stroke-width="0" fill="#151515" />
<line x1="291.50" y1="182.20" x2="291.50" y2="185.50" stroke="#444" stroke-width="1" />
<path d="M289.2,279.5 L291.5,277.9 L293.8,279.5 L291.5,281.1 Z" stroke="#3a3a3a" stroke-width="0" fill="#151515" />
<line x1="288.30" y1="279.50" x2="294.70" y2="279.50" stroke="#666" stroke-width="0.5" />
<path d="M297.2,185.5 L299.5,183.6 L301.8,185.5 L299.5,187.4 Z" stroke="#3a3a3a" stroke-width="0" fill="#151515" />
<line x1="299.50" y1="182.20" x2="299.50" y2="185.50" stroke="#444" stroke-width="1" />
<path d="M297.2,279.5 L299.5,277.9 L301.8,279.5 L299.5,281.1 Z" stroke="#3a3a3a" stroke-width="0" fill="#151515" />
<line x1="296.30" y1="279.50" x2="302.70" y2="279.50" stroke="#666" stroke-width="0.5" />
<line x1="302.10" y1="181.50" x2="304.90" y2="181.50" stroke="#222" stroke-width="1.1" />
<path d="M302.0,282.8 L305.0,284.2 M302.0,284.2 L305.0,282.8" stroke="#333" stroke-width="0.8" fill="none" />
<path d="M305.2,185.5 L307.5,183.6 L309.8,185.5 L307.5,187.4 Z" stroke="#3a3a3a" stroke-width="0" fill="#151515" />
<line x1="307.50" y1="182.20" x2="307.50" y2="185.50" stroke="#444" stroke-width="1" />
<path d="M305.2,279.5 L307.5,277.9 L309.8,279.5 L307.5,281.1 Z" stroke="#3a3a3a" stroke-width="0" fill="#151515" />
<line x1="304.30" y1="279.50" x2="310.70" y2="279.50" stroke="#666" stroke-width="0.5" />
<path d="M313.2,185.5 L315.5,183.6 L317.8,185.5 L315.5,187.4 Z" stroke="#3a3a3a" stroke-width="0" fill="#151515" />
<line x1="315.50" y1="182.20" x2="315.50" y2="185.50" stroke="#444" stroke-width="1" />
<path d="M313.2,279.5 L315.5,277.9 L317.8,279.5 L315.5,281.1 Z" stroke="#3a3a3a" stroke-width="0" fill="#151515" />
<line x1="312.30" y1="279.50" x2="318.70" y2="279.50" stroke="#666" stroke-width="0.5" />
<line x1="318.10" y1="181.50" x2="320.90" y2="181.50" stroke="#222" stroke-width="1.1" />
<path d="M318.0,282.8 L321.0,284.2 M318.0,284.2 L321.0,282.8" stroke="#333" stroke-width="0.8" fill="none" />
<path d="M321.2,185.5 L323.5,183.6 L325.8,185.5 L323.5,187.4 Z" stroke="#3a3a3a" stroke-width="0" fill="#151515" />
<line x1="323.50" y1="182.20" x2="323.50" y2="185.50" stroke="#444" stroke-width="1" />
<path d="M321.2,279.5 L323.5,277.9 L325.8,279.5 L323.5,281.1 Z" stroke="#3a3a3a" stroke-width="0" fill="#151515" />
<line x1="320.30" y1="279.50" x2="326.70" y2="279.50" stroke="#666" stroke-width="0.5" />
<path d="M329.2,185.5 L331.5,183.6 L333.8,185.5 L331.5,187.4 Z" stroke="#3a3a3a" stroke-width="0" fill="#151515" />
<line x1="331.50" y1="182.20" x2="331.50" y2="185.50" stroke="#444" stroke-width="1" />
<path d="M329.2,279.5 L331.5,277.9 L333.8,279.5 L331.5,281.1 Z" stroke="#3a3a3a" stroke-width="0" fill="#151515" />
<line x1="328.30" y1="279.50" x2="334.70" y2="279.50" stroke="#666" stroke-width="0.5" />
<line x1="334.10" y1="181.50" x2="336.90" y2="181.50" stroke="#222" stroke-width="1.1" />
<path d="M334.0,282.8 L337.0,284.2 M334.0,284.2 L337.0,282.8" stroke="#333" stroke-width="0.8" fill="none" />
<path d="M337.2,185.5 L339.5,183.6 L341.8,185.5 L339.5,187.4 Z" stroke="#3a3a3a" stroke-width="0" fill="#151515" />
<line x1="339.50" y1="182.20" x2="339.50" y2="185.50" stroke="#444" stroke-width="1" />
<path d="M337.2,279.5 L339.5,277.9 L341.8,279.5 L339.5,281.1 Z" stroke="#3a3a3a" stroke-width="0" fill="#151515" />
<line x1="336.30" y1="279.50" x2="342.70" y2="279.50" stroke="#666" stroke-width="0.5" />
<path d="M345.2,185.5 L347.5,183.6 L349.8,185.5 L347.5,187.4 Z" stroke="#3a3a3a" stroke-width="0" fill="#151515" />
<line x1="347.50" y1="182.20" x2="347.50" y2="185.50" stroke="#444" stroke-width="1" />
<path d="M345.2,279.5 L347.5,277.9 L349.8,279.5 L347.5,281.1 Z" stroke="#3a3a3a" stroke-width="0" fill="#151515" />
<line x1="344.30" y1="279.50" x2="350.70" y2="279.50" stroke="#666" stroke-width="0.5" />
<line x1="350.10" y1="181.50" x2="352.90" y2="181.50" stroke="#222" stroke-width="1.1" />
<path d="M350.0,282.8 L353.0,284.2 M350.0,284.2 L353.0,282.8" stroke="#333" stroke-width="0.8" fill="none" />
<path d="M353.2,185.5 L355.5,183.6 L357.8,185.5 L355.5,187.4 Z" stroke="#3a3a3a" stroke-width="0" fill="#151515" />
<line x1="355.50" y1="182.20" x2="355.50" y2="185.50" stroke="#444" stroke-width="1" />
<path d="M353.2,279.5 L355.5,277.9 L357.8,279.5 L355.5,281.1 Z" stroke="#3a3a3a" stroke-width="0" fill="#151515" />
<line x1="352.30" y1="279.50" x2="358.70" y2="279.50" stroke="#666" stroke-width="0.5" />
<path d="M361.2,185.5 L363.5,183.6 L365.8,185.5 L363.5,187.4 Z" stroke="#3a3a3a" stroke-width="0" fill="#151515" />
<line x1="363.50" y1="182.20" x2="363.50" y2="185.50" stroke="#444" stroke-width="1" />
<path d="M361.2,279.5 L363.5,277.9 L365.8,279.5 L363.5,281.1 Z" stroke="#3a3a3a" stroke-width="0" fill="#151515" />
<line x1="360.30" y1="279.50" x2="366.70" y2="279.50" stroke="#666" stroke-width="0.5" />
<line x1="366.10" y1="181.50" x2="368.90" y2="181.50" stroke="#222" stroke-width="1.1" />
<path d="M366.0,282.8 L369.0,284.2 M366.0,284.2 L369.0,282.8" stroke="#333" stroke-width="0.8" fill="none" />
<path d="M369.2,185.5 L371.5,183.6 L373.8,185.5 L371.5,187.4 Z" stroke="#3a3a3a" stroke-width="0" fill="#151515" />
<line x1="371.50" y1="182.20" x2="371.50" y2="185.50" stroke="#444" stroke-width="1" />
<path d="M369.2,279.5 L371.5,277.9 L373.8,279.5 L371.5,281.1 Z" stroke="#3a3a3a" stroke-width="0" fill="#151515" />
<line x1="368.30" y1="279.50" x2="374.70" y2="279.50" stroke="#666" stroke-width="0.5" />
<clipPath id="clip232"><rect x="232.5" y="189" width="141.0" height="87"/></clipPath>
<g clip-path="url(#clip232)">
<rect x="232.5" y="189" width="141.0" height="87" fill="rgba(255,255,255,0.7)"/>
<path d="M227.75,270 L227.75,194.8 Q227.75,191.3 231.5,191.3 Q235.25,191.3 235.25,194.8 L235.25,270 Q235.25,273 231.5,273 Q227.75,273 227.75,270" stroke="#555" stroke-width="0.9" fill="none" />
<line x1="231.50" y1="192.50" x2="231.50" y2="271.50" stroke="#555" stroke-width="0.9" />
<rect x="237.25" y="191.30" width="4.50" height="19.10" rx="2.25" stroke="#2a2a2a" stroke-width="1.0" fill="none"/>
<rect x="237.25" y="212.60" width="4.50" height="39.80" rx="2.25" stroke="#2a2a2a" stroke-width="1.0" fill="none"/>
<rect x="237.25" y="254.60" width="4.50" height="18.00" rx="2.25" stroke="#2a2a2a" stroke-width="1.0" fill="none"/>
<line x1="239.50" y1="193.00" x2="239.50" y2="271.00" stroke="#777" stroke-width="0.6" />
<ellipse cx="239.50" cy="211.50" rx="1.2" ry="1.1" stroke="#3a3a3a" stroke-width="0" fill="#111"/>
<ellipse cx="239.50" cy="253.50" rx="1.2" ry="1.1" stroke="#3a3a3a" stroke-width="0" fill="#111"/>
<circle cx="239.50" cy="191.60" r="0.9" stroke="#3a3a3a" stroke-width="0" fill="#222"/>
<circle cx="239.50" cy="271.80" r="0.9" stroke="#3a3a3a" stroke-width="0" fill="#222"/>
<path d="M243.75,270 L243.75,194.8 Q243.75,191.3 247.5,191.3 Q251.25,191.3 251.25,194.8 L251.25,270 Q251.25,273 247.5,273 Q243.75,273 243.75,270" stroke="#555" stroke-width="0.9" fill="none" />
<line x1="247.50" y1="192.50" x2="247.50" y2="271.50" stroke="#555" stroke-width="0.9" />
<rect x="253.25" y="191.30" width="4.50" height="19.10" rx="2.25" stroke="#2a2a2a" stroke-width="1.0" fill="none"/>
<rect x="253.25" y="212.60" width="4.50" height="39.80" rx="2.25" stroke="#2a2a2a" stroke-width="1.0" fill="none"/>
<rect x="253.25" y="254.60" width="4.50" height="18.00" rx="2.25" stroke="#2a2a2a" stroke-width="1.0" fill="none"/>
<line x1="255.50" y1="193.00" x2="255.50" y2="271.00" stroke="#777" stroke-width="0.6" />
<ellipse cx="255.50" cy="211.50" rx="1.2" ry="1.1" stroke="#3a3a3a" stroke-width="0" fill="#111"/>
<ellipse cx="255.50" cy="253.50" rx="1.2" ry="1.1" stroke="#3a3a3a" stroke-width="0" fill="#111"/>
<circle cx="255.50" cy="191.60" r="0.9" stroke="#3a3a3a" stroke-width="0" fill="#222"/>
<circle cx="255.50" cy="271.80" r="0.9" stroke="#3a3a3a" stroke-width="0" fill="#222"/>
<path d="M259.75,270 L259.75,194.8 Q259.75,191.3 263.5,191.3 Q267.25,191.3 267.25,194.8 L267.25,270 Q267.25,273 263.5,273 Q259.75,273 259.75,270" stroke="#555" stroke-width="0.9" fill="none" />
<line x1="263.50" y1="192.50" x2="263.50" y2="271.50" stroke="#555" stroke-width="0.9" />
<rect x="269.25" y="191.30" width="4.50" height="19.10" rx="2.25" stroke="#2a2a2a" stroke-width="1.0" fill="none"/>
<rect x="269.25" y="212.60" width="4.50" height="39.80" rx="2.25" stroke="#2a2a2a" stroke-width="1.0" fill="none"/>
<rect x="269.25" y="254.60" width="4.50" height="18.00" rx="2.25" stroke="#2a2a2a" stroke-width="1.0" fill="none"/>
<line x1="271.50" y1="193.00" x2="271.50" y2="271.00" stroke="#777" stroke-width="0.6" />
<ellipse cx="271.50" cy="211.50" rx="1.2" ry="1.1" stroke="#3a3a3a" stroke-width="0" fill="#111"/>
<ellipse cx="271.50" cy="253.50" rx="1.2" ry="1.1" stroke="#3a3a3a" stroke-width="0" fill="#111"/>
<circle cx="271.50" cy="191.60" r="0.9" stroke="#3a3a3a" stroke-width="0" fill="#222"/>
<circle cx="271.50" cy="271.80" r="0.9" stroke="#3a3a3a" stroke-width="0" fill="#222"/>
<path d="M275.75,270 L275.75,194.8 Q275.75,191.3 279.5,191.3 Q283.25,191.3 283.25,194.8 L283.25,270 Q283.25,273 279.5,273 Q275.75,273 275.75,270" stroke="#555" stroke-width="0.9" fill="none" />
<line x1="279.50" y1="192.50" x2="279.50" y2="271.50" stroke="#555" stroke-width="0.9" />
<rect x="285.25" y="191.30" width="4.50" height="19.10" rx="2.25" stroke="#2a2a2a" stroke-width="1.0" fill="none"/>
<rect x="285.25" y="212.60" width="4.50" height="39.80" rx="2.25" stroke="#2a2a2a" stroke-width="1.0" fill="none"/>
<rect x="285.25" y="254.60" width="4.50" height="18.00" rx="2.25" stroke="#2a2a2a" stroke-width="1.0" fill="none"/>
<line x1="287.50" y1="193.00" x2="287.50" y2="271.00" stroke="#777" stroke-width="0.6" />
<ellipse cx="287.50" cy="211.50" rx="1.2" ry="1.1" stroke="#3a3a3a" stroke-width="0" fill="#111"/>
<ellipse cx="287.50" cy="253.50" rx="1.2" ry="1.1" stroke="#3a3a3a" stroke-width="0" fill="#111"/>
<circle cx="287.50" cy="191.60" r="0.9" stroke="#3a3a3a" stroke-width="0" fill="#222"/>
<circle cx="287.50" cy="271.80" r="0.9" stroke="#3a3a3a" stroke-width="0" fill="#222"/>
<path d="M291.75,270 L291.75,194.8 Q291.75,191.3 295.5,191.3 Q299.25,191.3 299.25,194.8 L299.25,270 Q299.25,273 295.5,273 Q291.75,273 291.75,270" stroke="#555" stroke-width="0.9" fill="none" />
<line x1="295.50" y1="192.50" x2="295.50" y2="271.50" stroke="#555" stroke-width="0.9" />
<rect x="301.25" y="191.30" width="4.50" height="19.10" rx="2.25" stroke="#2a2a2a" stroke-width="1.0" fill="none"/>
<rect x="301.25" y="212.60" width="4.50" height="39.80" rx="2.25" stroke="#2a2a2a" stroke-width="1.0" fill="none"/>
<rect x="301.25" y="254.60" width="4.50" height="18.00" rx="2.25" stroke="#2a2a2a" stroke-width="1.0" fill="none"/>
<line x1="303.50" y1="193.00" x2="303.50" y2="271.00" stroke="#777" stroke-width="0.6" />
<ellipse cx="303.50" cy="211.50" rx="1.2" ry="1.1" stroke="#3a3a3a" stroke-width="0" fill="#111"/>
<ellipse cx="303.50" cy="253.50" rx="1.2" ry="1.1" stroke="#3a3a3a" stroke-width="0" fill="#111"/>
<circle cx="303.50" cy="191.60" r="0.9" stroke="#3a3a3a" stroke-width="0" fill="#222"/>
<circle cx="303.50" cy="271.80" r="0.9" stroke="#3a3a3a" stroke-width="0" fill="#222"/>
<path d="M307.75,270 L307.75,194.8 Q307.75,191.3 311.5,191.3 Q315.25,191.3 315.25,194.8 L315.25,270 Q315.25,273 311.5,273 Q307.75,273 307.75,270" stroke="#555" stroke-width="0.9" fill="none" />
<line x1="311.50" y1="192.50" x2="311.50" y2="271.50" stroke="#555" stroke-width="0.9" />
<rect x="317.25" y="191.30" width="4.50" height="19.10" rx="2.25" stroke="#2a2a2a" stroke-width="1.0" fill="none"/>
<rect x="317.25" y="212.60" width="4.50" height="39.80" rx="2.25" stroke="#2a2a2a" stroke-width="1.0" fill="none"/>
<rect x="317.25" y="254.60" width="4.50" height="18.00" rx="2.25" stroke="#2a2a2a" stroke-width="1.0" fill="none"/>
<line x1="319.50" y1="193.00" x2="319.50" y2="271.00" stroke="#777" stroke-width="0.6" />
<ellipse cx="319.50" cy="211.50" rx="1.2" ry="1.1" stroke="#3a3a3a" stroke-width="0" fill="#111"/>
<ellipse cx="319.50" cy="253.50" rx="1.2" ry="1.1" stroke="#3a3a3a" stroke-width="0" fill="#111"/>
<circle cx="319.50" cy="191.60" r="0.9" stroke="#3a3a3a" stroke-width="0" fill="#222"/>
<circle cx="319.50" cy="271.80" r="0.9" stroke="#3a3a3a" stroke-width="0" fill="#222"/>
<path d="M323.75,270 L323.75,194.8 Q323.75,191.3 327.5,191.3 Q331.25,191.3 331.25,194.8 L331.25,270 Q331.25,273 327.5,273 Q323.75,273 323.75,270" stroke="#555" stroke-width="0.9" fill="none" />
<line x1="327.50" y1="192.50" x2="327.50" y2="271.50" stroke="#555" stroke-width="0.9" />
<rect x="333.25" y="191.30" width="4.50" height="19.10" rx="2.25" stroke="#2a2a2a" stroke-width="1.0" fill="none"/>
<rect x="333.25" y="212.60" width="4.50" height="39.80" rx="2.25" stroke="#2a2a2a" stroke-width="1.0" fill="none"/>
<rect x="333.25" y="254.60" width="4.50" height="18.00" rx="2.25" stroke="#2a2a2a" stroke-width="1.0" fill="none"/>
<line x1="335.50" y1="193.00" x2="335.50" y2="271.00" stroke="#777" stroke-width="0.6" />
<ellipse cx="335.50" cy="211.50" rx="1.2" ry="1.1" stroke="#3a3a3a" stroke-width="0" fill="#111"/>
<ellipse cx="335.50" cy="253.50" rx="1.2" ry="1.1" stroke="#3a3a3a" stroke-width="0" fill="#111"/>
<circle cx="335.50" cy="191.60" r="0.9" stroke="#3a3a3a" stroke-width="0" fill="#222"/>
<circle cx="335.50" cy="271.80" r="0.9" stroke="#3a3a3a" stroke-width="0" fill="#222"/>
<path d="M339.75,270 L339.75,194.8 Q339.75,191.3 343.5,191.3 Q347.25,191.3 347.25,194.8 L347.25,270 Q347.25,273 343.5,273 Q339.75,273 339.75,270" stroke="#555" stroke-width="0.9" fill="none" />
<line x1="343.50" y1="192.50" x2="343.50" y2="271.50" stroke="#555" stroke-width="0.9" />
<rect x="349.25" y="191.30" width="4.50" height="19.10" rx="2.25" stroke="#2a2a2a" stroke-width="1.0" fill="none"/>
<rect x="349.25" y="212.60" width="4.50" height="39.80" rx="2.25" stroke="#2a2a2a" stroke-width="1.0" fill="none"/>
<rect x="349.25" y="254.60" width="4.50" height="18.00" rx="2.25" stroke="#2a2a2a" stroke-width="1.0" fill="none"/>
<line x1="351.50" y1="193.00" x2="351.50" y2="271.00" stroke="#777" stroke-width="0.6" />
<ellipse cx="351.50" cy="211.50" rx="1.2" ry="1.1" stroke="#3a3a3a" stroke-width="0" fill="#111"/>
<ellipse cx="351.50" cy="253.50" rx="1.2" ry="1.1" stroke="#3a3a3a" stroke-width="0" fill="#111"/>
<circle cx="351.50" cy="191.60" r="0.9" stroke="#3a3a3a" stroke-width="0" fill="#222"/>
<circle cx="351.50" cy="271.80" r="0.9" stroke="#3a3a3a" stroke-width="0" fill="#222"/>
<path d="M355.75,270 L355.75,194.8 Q355.75,191.3 359.5,191.3 Q363.25,191.3 363.25,194.8 L363.25,270 Q363.25,273 359.5,273 Q355.75,273 355.75,270" stroke="#555" stroke-width="0.9" fill="none" />
<line x1="359.50" y1="192.50" x2="359.50" y2="271.50" stroke="#555" stroke-width="0.9" />
<rect x="365.25" y="191.30" width="4.50" height="19.10" rx="2.25" stroke="#2a2a2a" stroke-width="1.0" fill="none"/>
<rect x="365.25" y="212.60" width="4.50" height="39.80" rx="2.25" stroke="#2a2a2a" stroke-width="1.0" fill="none"/>
<rect x="365.25" y="254.60" width="4.50" height="18.00" rx="2.25" stroke="#2a2a2a" stroke-width="1.0" fill="none"/>
<line x1="367.50" y1="193.00" x2="367.50" y2="271.00" stroke="#777" stroke-width="0.6" />
<ellipse cx="367.50" cy="211.50" rx="1.2" ry="1.1" stroke="#3a3a3a" stroke-width="0" fill="#111"/>
<ellipse cx="367.50" cy="253.50" rx="1.2" ry="1.1" stroke="#3a3a3a" stroke-width="0" fill="#111"/>
<circle cx="367.50" cy="191.60" r="0.9" stroke="#3a3a3a" stroke-width="0" fill="#222"/>
<circle cx="367.50" cy="271.80" r="0.9" stroke="#3a3a3a" stroke-width="0" fill="#222"/>
<path d="M371.75,270 L371.75,194.8 Q371.75,191.3 375.5,191.3 Q379.25,191.3 379.25,194.8 L379.25,270 Q379.25,273 375.5,273 Q371.75,273 371.75,270" stroke="#555" stroke-width="0.9" fill="none" />
<line x1="375.50" y1="192.50" x2="375.50" y2="271.50" stroke="#555" stroke-width="0.9" />
</g>
<line x1="232.50" y1="232.50" x2="373.50" y2="232.50" stroke="#444" stroke-width="1" />
<rect x="222.00" y="217.00" width="10.00" height="25.00" rx="0" stroke="#3a3a3a" stroke-width="0" fill="#fff"/>
<line x1="221.50" y1="170.00" x2="221.50" y2="233.00" stroke="#333" stroke-width="1" />
<line x1="221.50" y1="238.00" x2="221.50" y2="288.50" stroke="#333" stroke-width="1" />
<polyline points="231.70,219.00 227.00,223.30 239.50,223.00 233.00,227.50" stroke="#444" stroke-width="0.8" fill="none" stroke-linejoin="round" />
<polyline points="221.50,232.50 215.50,235.80 228.00,235.80 221.50,239.50" stroke="#444" stroke-width="0.8" fill="none" stroke-linejoin="round" />
<line x1="141.70" y1="288.30" x2="141.70" y2="307.00" stroke="#444" stroke-width="0.85" />
<line x1="149.70" y1="272.00" x2="149.70" y2="314.00" stroke="#444" stroke-width="0.85" />
<line x1="164.70" y1="283.00" x2="164.70" y2="307.00" stroke="#444" stroke-width="0.85" />
<line x1="180.50" y1="272.00" x2="180.50" y2="307.00" stroke="#444" stroke-width="0.85" />
<line x1="188.00" y1="283.00" x2="188.00" y2="307.00" stroke="#444" stroke-width="0.85" />
<line x1="367.10" y1="288.30" x2="367.10" y2="314.00" stroke="#444" stroke-width="0.85" />
<line x1="108.00" y1="306.20" x2="153.00" y2="306.20" stroke="#444" stroke-width="0.85" />
<polygon points="141.70,306.20 137.70,307.30 137.70,305.10" fill="#333"/>
<polygon points="149.70,306.20 153.70,305.10 153.70,307.30" fill="#333"/>
<line x1="149.70" y1="306.20" x2="168.00" y2="306.20" stroke="#444" stroke-width="0.85" />
<polygon points="164.70,306.20 160.70,307.30 160.70,305.10" fill="#333"/>
<line x1="169.00" y1="306.20" x2="180.50" y2="306.20" stroke="#444" stroke-width="0.85" />
<polygon points="180.50,306.20 176.50,307.30 176.50,305.10" fill="#333"/>
<line x1="188.00" y1="306.20" x2="220.00" y2="306.20" stroke="#444" stroke-width="0.85" />
<polygon points="188.00,306.20 192.00,305.10 192.00,307.30" fill="#333"/>
<text x="111.70" y="304.70" font-size="9" text-anchor="start" fill="#333" font-weight="normal" textLength="17" lengthAdjust="spacingAndGlyphs" >23±2</text>
<text x="153.30" y="304.70" font-size="9" text-anchor="start" fill="#333" font-weight="normal" textLength="8.4" lengthAdjust="spacingAndGlyphs" >55</text>
<text x="202.50" y="304.50" font-size="9" text-anchor="start" fill="#333" font-weight="normal" textLength="15" lengthAdjust="spacingAndGlyphs" >27.5</text>
<line x1="149.70" y1="313.20" x2="367.10" y2="313.20" stroke="#444" stroke-width="0.85" />
<polygon points="149.70,313.20 153.70,312.10 153.70,314.30" fill="#333"/>
<polygon points="367.10,313.20 363.10,314.30 363.10,312.10" fill="#333"/>
<text x="236.00" y="311.50" font-size="9" text-anchor="start" fill="#333" font-weight="normal" textLength="43" lengthAdjust="spacingAndGlyphs" >22x55=1210</text>
<line x1="403.00" y1="147.30" x2="450.70" y2="147.30" stroke="#444" stroke-width="0.85" />
<polygon points="434.40,147.30 430.40,148.40 430.40,146.20" fill="#333"/>
<polygon points="438.70,147.30 442.70,146.20 442.70,148.40" fill="#333"/>
<text x="405.30" y="145.50" font-size="9" text-anchor="start" fill="#333" font-weight="normal" textLength="16" lengthAdjust="spacingAndGlyphs" >15±1</text>
<line x1="434.40" y1="147.30" x2="434.40" y2="169.30" stroke="#2a2a2a" stroke-width="0.8" />
<line x1="438.70" y1="147.30" x2="438.70" y2="169.30" stroke="#777" stroke-width="0.5" />
<line x1="434.40" y1="162.00" x2="467.00" y2="162.00" stroke="#2a2a2a" stroke-width="0.8" />
<line x1="434.40" y1="169.30" x2="467.00" y2="169.30" stroke="#2a2a2a" stroke-width="1.1" />
<polyline points="438.70,162.00 446.00,161.00 441.30,157.00" stroke="#444" stroke-width="0.6" fill="none" stroke-linejoin="round" />
<line x1="466.70" y1="132.00" x2="466.70" y2="256.00" stroke="#444" stroke-width="0.85" />
<polygon points="466.70,162.00 465.60,158.00 467.80,158.00" fill="#333"/>
<polygon points="466.70,169.30 467.80,173.30 465.60,173.30" fill="#333"/>
<polygon points="466.70,256.00 465.60,252.00 467.80,252.00" fill="#333"/>
<text x="465.00" y="144.00" font-size="9" text-anchor="middle" fill="#333" font-weight="normal" transform="rotate(-90 465.00 144.00)" textLength="8.5" lengthAdjust="spacingAndGlyphs" >22</text>
<text x="465.30" y="212.80" font-size="9.2" text-anchor="middle" fill="#333" font-weight="normal" transform="rotate(-90 465.30 212.80)" textLength="13.5" lengthAdjust="spacingAndGlyphs" >304</text>
<line x1="437.60" y1="256.00" x2="468.00" y2="256.00" stroke="#2a2a2a" stroke-width="0.7" />
<path d="M438.6,171.5 L434.7,181 L434.7,246 L438,256" stroke="#444" stroke-width="0.8" fill="none" />
<path d="M438.6,171.5 L439.0,174.6 L440.4,176.2 L439.0,177.8 L440.4,179.4 L439.0,181.0 L440.4,182.6 L439.0,184.2 L440.4,185.8 L439.0,187.4 L440.4,189.0 L439.0,190.6 L440.4,192.2 L439.0,193.8 L440.4,195.4 L439.0,197.0 L440.4,198.6 L439.0,200.2 L440.4,201.8 L439.0,203.4 L440.4,205.0 L439.0,206.6 L440.4,208.2 L439.0,209.8 L440.4,211.4 L439.0,213.0 L440.4,214.6 L439.0,216.2 L440.4,217.8 L439.0,219.4 L440.4,221.0 L439.0,222.6 L440.4,224.2 L439.0,225.8 L440.4,227.4 L439.0,229.0 L440.4,230.6 L439.0,232.2 L440.4,233.8 L439.0,235.4 L440.4,237.0 L439.0,238.6 L440.4,240.2 L439.0,241.8 L440.4,243.4 L439.0,245.0 L440.4,246.6 L439.0,248.2 L440.4,249.8 L439.0,251.4 L440.4,253.0 L439.0,254.6" stroke="#333" stroke-width="0.9" fill="none" />
<line x1="433.00" y1="213.00" x2="441.50" y2="213.00" stroke="#444" stroke-width="0.7" />
<polyline points="438.00,256.00 434.80,258.00 430.40,301.00 442.40,302.00 446.00,265.00 434.80,264.00" stroke="#2a2a2a" stroke-width="0.8" fill="none" stroke-linejoin="round" />
<polyline points="446.00,265.00 460.00,285.60 455.00,288.50 443.00,270.00 445.60,267.00" stroke="#2a2a2a" stroke-width="0.8" fill="none" stroke-linejoin="round" />
<line x1="445.00" y1="295.00" x2="486.00" y2="268.00" stroke="#444" stroke-width="0.85" />
<polygon points="455.00,288.50 457.73,285.38 458.94,287.22" fill="#333"/>
<polygon points="460.00,285.30 457.27,288.42 456.06,286.58" fill="#333"/>
<text x="477.00" y="271.00" font-size="9" text-anchor="middle" fill="#333" font-weight="normal" transform="rotate(-33.4 477.00 271.00)" textLength="17" lengthAdjust="spacingAndGlyphs" >23±1</text>
<line x1="391.00" y1="296.50" x2="454.00" y2="303.50" stroke="#444" stroke-width="0.85" />
<polygon points="430.40,301.00 426.30,301.65 426.54,299.47" fill="#333"/>
<polygon points="442.40,302.30 446.50,301.65 446.26,303.83" fill="#333"/>
<text x="405.50" y="295.50" font-size="9" text-anchor="middle" fill="#333" font-weight="normal" transform="rotate(6.3 405.50 295.50)" textLength="24" lengthAdjust="spacingAndGlyphs" >44±1.5</text>
<text x="360.80" y="325.30" font-size="6.5" text-anchor="start" fill="#2a2a2a" font-weight="normal" >Комплектация:</text>
<text x="360.80" y="333.12" font-size="6.5" text-anchor="start" fill="#2a2a2a" font-weight="normal" >1 - платформа переходного мостика - 1 шт.</text>
<text x="360.80" y="340.94" font-size="6.5" text-anchor="start" fill="#2a2a2a" font-weight="normal" >2 - кронштейн верхний - 2 шт.</text>
<text x="360.80" y="348.76" font-size="6.5" text-anchor="start" fill="#2a2a2a" font-weight="normal" >3 - кронштейн нижний - 2 шт.</text>
<text x="360.80" y="356.58" font-size="6.5" text-anchor="start" fill="#2a2a2a" font-weight="normal" >4 - болт М8х20 - 14 шт.</text>
<text x="360.80" y="364.40" font-size="6.5" text-anchor="start" fill="#2a2a2a" font-weight="normal" >5 - гайка М8 - 14 шт.</text>
<text x="360.80" y="372.22" font-size="6.5" text-anchor="start" fill="#2a2a2a" font-weight="normal" >6 - шайба Ø8 - 20 шт.</text>
<text x="360.80" y="380.04" font-size="6.5" text-anchor="start" fill="#2a2a2a" font-weight="normal" >7 - болт-шуруп Ø8х50 - 6 шт.</text>
<text x="360.80" y="387.86" font-size="6.5" text-anchor="start" fill="#2a2a2a" font-weight="normal" >8 - прокладка из пластиката Н-7мм - 6 шт.</text>
<text x="360.80" y="395.68" font-size="6.5" text-anchor="start" fill="#2a2a2a" font-weight="normal" >9 - прокладка из пластиката Н-14мм - 2 шт.</text>
<text x="128.30" y="413.50" font-size="10" text-anchor="start" fill="#222" font-weight="normal" textLength="90" lengthAdjust="spacingAndGlyphs" >Кронштейн верхний</text>
<path d="M121.8,488.6 L159.4,452 Q164,447.7 169,447.7 L177,447.7 Q182,447.7 186.8,452 L224.5,488.6" stroke="#2a2a2a" stroke-width="0.8" fill="none" />
<line x1="121.80" y1="488.60" x2="151.20" y2="488.60" stroke="#1a1a1a" stroke-width="1.3" />
<line x1="194.60" y1="488.60" x2="224.50" y2="488.60" stroke="#1a1a1a" stroke-width="1.3" />
<path d="M151.2,488.6 Q160,477.6 172.6,477.6 Q185,477.6 194.6,488.6" stroke="#333" stroke-width="0.85" fill="none" />
<line x1="121.80" y1="488.60" x2="121.80" y2="499.60" stroke="#2a2a2a" stroke-width="0.7" />
<line x1="224.50" y1="488.60" x2="224.50" y2="499.60" stroke="#2a2a2a" stroke-width="0.7" />
<line x1="121.80" y1="499.60" x2="224.50" y2="499.60" stroke="#444" stroke-width="0.85" />
<polygon points="121.80,499.60 125.80,498.50 125.80,500.70" fill="#333"/>
<polygon points="224.50,499.60 220.50,500.70 220.50,498.50" fill="#333"/>
<text x="165.00" y="497.00" font-size="9" text-anchor="start" fill="#333" font-weight="normal" textLength="16" lengthAdjust="spacingAndGlyphs" >354*</text>
<circle cx="168.40" cy="450.60" r="1.45" stroke="#3a3a3a" stroke-width="0" fill="#1a1a1a"/>
<circle cx="173.20" cy="450.60" r="1.45" stroke="#3a3a3a" stroke-width="0" fill="#1a1a1a"/>
<circle cx="178.00" cy="450.60" r="1.45" stroke="#3a3a3a" stroke-width="0" fill="#1a1a1a"/>
<circle cx="159.40" cy="454.30" r="1.45" stroke="#3a3a3a" stroke-width="0" fill="#1a1a1a"/>
<circle cx="156.30" cy="457.60" r="1.45" stroke="#3a3a3a" stroke-width="0" fill="#1a1a1a"/>
<circle cx="153.00" cy="461.50" r="1.45" stroke="#3a3a3a" stroke-width="0" fill="#1a1a1a"/>
<circle cx="150.00" cy="470.80" r="1.45" stroke="#3a3a3a" stroke-width="0" fill="#1a1a1a"/>
<circle cx="173.20" cy="473.50" r="1.45" stroke="#3a3a3a" stroke-width="0" fill="#1a1a1a"/>
<circle cx="196.00" cy="470.80" r="1.45" stroke="#3a3a3a" stroke-width="0" fill="#1a1a1a"/>
<circle cx="186.80" cy="454.30" r="1.45" stroke="#3a3a3a" stroke-width="0" fill="#1a1a1a"/>
<circle cx="190.00" cy="457.60" r="1.45" stroke="#3a3a3a" stroke-width="0" fill="#1a1a1a"/>
<circle cx="193.40" cy="461.50" r="1.45" stroke="#3a3a3a" stroke-width="0" fill="#1a1a1a"/>
<line x1="133.30" y1="474.10" x2="138.30" y2="474.10" stroke="#222" stroke-width="0.8" />
<line x1="135.80" y1="471.60" x2="135.80" y2="476.60" stroke="#222" stroke-width="0.8" />
<line x1="208.00" y1="474.10" x2="213.00" y2="474.10" stroke="#222" stroke-width="0.8" />
<line x1="210.50" y1="471.60" x2="210.50" y2="476.60" stroke="#222" stroke-width="0.8" />
<line x1="102.50" y1="447.70" x2="170.00" y2="447.70" stroke="#444" stroke-width="0.85" />
<line x1="102.50" y1="488.60" x2="121.80" y2="488.60" stroke="#444" stroke-width="0.85" />
<line x1="102.50" y1="444.00" x2="102.50" y2="506.00" stroke="#444" stroke-width="0.85" />
<polygon points="102.50,447.70 103.60,451.70 101.40,451.70" fill="#333"/>
<polygon points="102.50,488.60 101.40,484.60 103.60,484.60" fill="#333"/>
<polygon points="102.50,499.60 103.60,503.10 101.40,503.10" fill="#333"/>
<text x="100.50" y="467.50" font-size="9.2" text-anchor="middle" fill="#333" font-weight="normal" transform="rotate(-90 100.50 467.50)" textLength="13.8" lengthAdjust="spacingAndGlyphs" >142</text>
<text x="100.50" y="497.50" font-size="9" text-anchor="middle" fill="#333" font-weight="normal" transform="rotate(-90 100.50 497.50)" textLength="15" lengthAdjust="spacingAndGlyphs" >27.5</text>
<polyline points="241.00,436.90 241.00,476.50 270.00,476.50" stroke="#1a1a1a" stroke-width="1.2" fill="none" stroke-linejoin="round" />
<line x1="258.50" y1="476.50" x2="258.50" y2="489.40" stroke="#444" stroke-width="0.85" />
<line x1="241.00" y1="476.50" x2="241.00" y2="489.40" stroke="#444" stroke-width="0.85" />
<line x1="241.00" y1="489.00" x2="258.50" y2="489.00" stroke="#444" stroke-width="0.85" />
<polygon points="241.00,489.00 245.00,487.90 245.00,490.10" fill="#333"/>
<polygon points="258.50,489.00 254.50,490.10 254.50,487.90" fill="#333"/>
<text x="245.00" y="487.50" font-size="9" text-anchor="start" fill="#333" font-weight="normal" textLength="9.5" lengthAdjust="spacingAndGlyphs" >60</text>
<line x1="270.25" y1="454.00" x2="270.25" y2="490.00" stroke="#444" stroke-width="0.85" />
<polygon points="270.25,476.50 269.15,472.50 271.35,472.50" fill="#333"/>
<polygon points="270.25,477.00 271.35,480.00 269.15,480.00" fill="#333"/>
<text x="267.50" y="460.50" font-size="8.7" text-anchor="middle" fill="#333" font-weight="normal" transform="rotate(-90 267.50 460.50)" >2*</text>
<line x1="120.00" y1="512.50" x2="224.50" y2="512.50" stroke="#1a1a1a" stroke-width="1.3" />
<polyline points="149.00,512.50 135.00,528.80 122.50,528.80" stroke="#2a2a2a" stroke-width="0.8" fill="none" stroke-linejoin="round" />
<polyline points="195.50,512.50 210.00,528.80 224.50,528.80 224.50,512.50" stroke="#2a2a2a" stroke-width="0.8" fill="none" stroke-linejoin="round" />
<line x1="120.00" y1="512.50" x2="120.00" y2="560.00" stroke="#444" stroke-width="0.85" />
<line x1="122.50" y1="512.50" x2="122.50" y2="560.00" stroke="#444" stroke-width="0.85" />
<line x1="220.00" y1="528.80" x2="220.00" y2="560.00" stroke="#444" stroke-width="0.85" />
<line x1="172.50" y1="507.00" x2="172.50" y2="525.00" stroke="#444" stroke-width="0.6" />
<circle cx="123.75" cy="517.50" r="1.2" stroke="#3a3a3a" stroke-width="0" fill="#222"/>
<line x1="123.75" y1="515.30" x2="123.75" y2="519.70" stroke="#333" stroke-width="0.7" />
<circle cx="123.75" cy="525.50" r="1.2" stroke="#3a3a3a" stroke-width="0" fill="#222"/>
<line x1="123.75" y1="523.30" x2="123.75" y2="527.70" stroke="#333" stroke-width="0.7" />
<circle cx="220.00" cy="517.50" r="1.2" stroke="#3a3a3a" stroke-width="0" fill="#222"/>
<line x1="220.00" y1="515.30" x2="220.00" y2="519.70" stroke="#333" stroke-width="0.7" />
<circle cx="220.00" cy="525.50" r="1.2" stroke="#3a3a3a" stroke-width="0" fill="#222"/>
<line x1="220.00" y1="523.30" x2="220.00" y2="527.70" stroke="#333" stroke-width="0.7" />
<line x1="102.00" y1="517.50" x2="123.00" y2="517.50" stroke="#444" stroke-width="0.85" />
<line x1="102.00" y1="525.50" x2="123.00" y2="525.50" stroke="#444" stroke-width="0.85" />
<line x1="102.00" y1="530.00" x2="123.00" y2="530.00" stroke="#444" stroke-width="0.85" />
<line x1="102.00" y1="505.00" x2="102.00" y2="560.00" stroke="#444" stroke-width="0.85" />
<polygon points="102.00,517.50 100.90,514.50 103.10,514.50" fill="#333"/>
<polygon points="102.00,530.00 103.10,533.00 100.90,533.00" fill="#333"/>
<text x="100.00" y="546.00" font-size="9" text-anchor="middle" fill="#333" font-weight="normal" transform="rotate(-90 100.00 546.00)" textLength="8.5" lengthAdjust="spacingAndGlyphs" >12</text>
<line x1="99.00" y1="559.50" x2="220.00" y2="559.50" stroke="#444" stroke-width="0.85" />
<polygon points="120.00,559.50 116.00,560.60 116.00,558.40" fill="#333"/>
<polygon points="122.50,559.50 126.50,558.40 126.50,560.60" fill="#333"/>
<polygon points="220.00,559.50 216.00,560.60 216.00,558.40" fill="#333"/>
<text x="99.00" y="557.50" font-size="9" text-anchor="start" fill="#333" font-weight="normal" textLength="10" lengthAdjust="spacingAndGlyphs" >14</text>
<text x="161.00" y="557.50" font-size="9" text-anchor="start" fill="#333" font-weight="normal" textLength="23" lengthAdjust="spacingAndGlyphs" >326±1</text>
<text x="378.30" y="411.80" font-size="10" text-anchor="start" fill="#222" font-weight="normal" textLength="85.3" lengthAdjust="spacingAndGlyphs" >Кронштейн нижний</text>
<path d="M323,504 L323,490.3 L341,490.3 Q344,490.3 346,487.5 L383.6,448 L424.4,448 L460,487.5 Q462,490.3 465,490.3 L484,490.3 L484,504" stroke="#2a2a2a" stroke-width="0.8" fill="none" />
<line x1="305.00" y1="504.00" x2="484.00" y2="504.00" stroke="#1a1a1a" stroke-width="1.3" />
<line x1="325.00" y1="490.30" x2="325.00" y2="504.00" stroke="#555" stroke-width="0.6" />
<line x1="305.60" y1="448.00" x2="383.60" y2="448.00" stroke="#444" stroke-width="0.85" />
<line x1="327.60" y1="451.00" x2="383.00" y2="451.00" stroke="#888" stroke-width="0.6" />
<line x1="316.60" y1="461.00" x2="413.00" y2="461.00" stroke="#444" stroke-width="0.85" />
<line x1="316.60" y1="481.00" x2="413.00" y2="481.00" stroke="#444" stroke-width="0.85" />
<line x1="316.60" y1="490.30" x2="323.00" y2="490.30" stroke="#444" stroke-width="0.85" />
<line x1="305.60" y1="444.00" x2="305.60" y2="505.00" stroke="#444" stroke-width="0.85" />
<polygon points="305.60,448.00 306.70,452.00 304.50,452.00" fill="#333"/>
<polygon points="305.60,504.00 304.50,500.00 306.70,500.00" fill="#333"/>
<line x1="316.60" y1="437.00" x2="316.60" y2="504.00" stroke="#444" stroke-width="0.85" />
<polygon points="316.60,448.00 317.70,451.00 315.50,451.00" fill="#333"/>
<polygon points="316.60,461.00 315.50,458.00 317.70,458.00" fill="#333"/>
<polygon points="316.60,461.00 317.70,464.00 315.50,464.00" fill="#333"/>
<polygon points="316.60,481.00 315.50,478.00 317.70,478.00" fill="#333"/>
<polygon points="316.60,481.00 317.70,484.00 315.50,484.00" fill="#333"/>
<polygon points="316.60,490.30 315.50,487.30 317.70,487.30" fill="#333"/>
<polygon points="316.60,490.30 317.70,493.30 315.50,493.30" fill="#333"/>
<polygon points="316.60,504.00 315.50,501.00 317.70,501.00" fill="#333"/>
<line x1="327.60" y1="424.00" x2="327.60" y2="463.00" stroke="#444" stroke-width="0.85" />
<polygon points="327.60,448.00 326.50,445.00 328.70,445.00" fill="#333"/>
<polygon points="327.60,451.00 328.70,454.00 326.50,454.00" fill="#333"/>
<text x="303.00" y="476.50" font-size="9" text-anchor="middle" fill="#333" font-weight="normal" transform="rotate(-90 303.00 476.50)" textLength="26.4" lengthAdjust="spacingAndGlyphs" >147±1.5</text>
<text x="314.00" y="454.50" font-size="9" text-anchor="middle" fill="#333" font-weight="normal" transform="rotate(-90 314.00 454.50)" textLength="8.5" lengthAdjust="spacingAndGlyphs" >34</text>
<text x="314.00" y="471.50" font-size="9" text-anchor="middle" fill="#333" font-weight="normal" transform="rotate(-90 314.00 471.50)" textLength="8.5" lengthAdjust="spacingAndGlyphs" >56</text>
<text x="314.00" y="496.00" font-size="9" text-anchor="middle" fill="#333" font-weight="normal" transform="rotate(-90 314.00 496.00)" textLength="8.5" lengthAdjust="spacingAndGlyphs" >34</text>
<text x="325.00" y="430.00" font-size="9" text-anchor="middle" fill="#333" font-weight="normal" transform="rotate(-90 325.00 430.00)" textLength="8.5" lengthAdjust="spacingAndGlyphs" >10</text>
<line x1="383.60" y1="422.00" x2="424.40" y2="422.00" stroke="#444" stroke-width="0.85" />
<polygon points="383.60,422.00 387.60,420.90 387.60,423.10" fill="#333"/>
<polygon points="424.40,422.00 420.40,423.10 420.40,420.90" fill="#333"/>
<line x1="383.60" y1="419.00" x2="383.60" y2="448.00" stroke="#444" stroke-width="0.85" />
<line x1="424.40" y1="419.00" x2="424.40" y2="448.00" stroke="#444" stroke-width="0.85" />
<text x="397.00" y="419.30" font-size="9" text-anchor="start" fill="#333" font-weight="normal" textLength="13" lengthAdjust="spacingAndGlyphs" >109</text>
<line x1="383.60" y1="435.00" x2="424.40" y2="435.00" stroke="#444" stroke-width="0.85" />
<polygon points="396.60,435.00 392.60,436.10 392.60,433.90" fill="#333"/>
<polygon points="411.60,435.00 415.60,433.90 415.60,436.10" fill="#333"/>
<line x1="396.60" y1="432.00" x2="396.60" y2="484.00" stroke="#444" stroke-width="0.85" />
<line x1="411.60" y1="432.00" x2="411.60" y2="484.00" stroke="#444" stroke-width="0.85" />
<text x="400.00" y="433.00" font-size="9" text-anchor="start" fill="#333" font-weight="normal" textLength="9" lengthAdjust="spacingAndGlyphs" >43</text>
<line x1="404.00" y1="446.00" x2="404.00" y2="508.00" stroke="#444" stroke-width="0.6" />
<rect x="396.40" y="456.40" width="15.60" height="8.00" rx="4" stroke="#2a2a2a" stroke-width="0.8" fill="none"/>
<rect x="396.40" y="477.00" width="15.60" height="8.00" rx="4" stroke="#2a2a2a" stroke-width="0.8" fill="none"/>
<circle cx="403.60" cy="452.00" r="1.3" stroke="#222" stroke-width="0.7" fill="#777"/>
<rect x="377.10" y="465.70" width="2.60" height="2.60" rx="0" stroke="#222" stroke-width="0.7" fill="#999"/>
<rect x="380.70" y="470.70" width="2.60" height="2.60" rx="0" stroke="#222" stroke-width="0.7" fill="#999"/>
<rect x="384.70" y="474.70" width="2.60" height="2.60" rx="0" stroke="#222" stroke-width="0.7" fill="#999"/>
<rect x="420.30" y="474.70" width="2.60" height="2.60" rx="0" stroke="#222" stroke-width="0.7" fill="#999"/>
<rect x="425.30" y="470.70" width="2.60" height="2.60" rx="0" stroke="#222" stroke-width="0.7" fill="#999"/>
<rect x="428.10" y="464.70" width="2.60" height="2.60" rx="0" stroke="#222" stroke-width="0.7" fill="#999"/>
<polyline points="496.50,448.30 496.50,502.80 522.60,502.80" stroke="#1a1a1a" stroke-width="1.2" fill="none" stroke-linejoin="round" />
<line x1="507.50" y1="502.80" x2="507.50" y2="523.50" stroke="#444" stroke-width="0.85" />
<line x1="496.50" y1="502.80" x2="496.50" y2="523.50" stroke="#444" stroke-width="0.85" />
<line x1="485.00" y1="523.50" x2="520.00" y2="523.50" stroke="#444" stroke-width="0.85" />
<polygon points="496.50,523.50 492.50,524.60 492.50,522.40" fill="#333"/>
<polygon points="507.50,523.50 511.50,522.40 511.50,524.60" fill="#333"/>
<text x="498.00" y="521.00" font-size="9" text-anchor="start" fill="#333" font-weight="normal" textLength="8.5" lengthAdjust="spacingAndGlyphs" >32</text>
<line x1="522.60" y1="490.00" x2="522.60" y2="536.00" stroke="#444" stroke-width="0.85" />
<polygon points="522.60,502.80 521.50,499.80 523.70,499.80" fill="#333"/>
<polygon points="522.60,503.30 523.70,506.30 521.50,506.30" fill="#333"/>
<text x="519.50" y="531.50" font-size="8.7" text-anchor="middle" fill="#333" font-weight="normal" transform="rotate(-90 519.50 531.50)" >2*</text>
<line x1="324.00" y1="504.00" x2="324.00" y2="517.00" stroke="#444" stroke-width="0.85" />
<line x1="484.00" y1="504.00" x2="484.00" y2="517.00" stroke="#444" stroke-width="0.85" />
<line x1="324.00" y1="515.00" x2="484.00" y2="515.00" stroke="#444" stroke-width="0.85" />
<polygon points="324.00,515.00 328.00,513.90 328.00,516.10" fill="#333"/>
<polygon points="484.00,515.00 480.00,516.10 480.00,513.90" fill="#333"/>
<text x="395.50" y="512.50" font-size="9" text-anchor="start" fill="#333" font-weight="normal" textLength="16.5" lengthAdjust="spacingAndGlyphs" >425*</text>
<line x1="324.00" y1="532.40" x2="483.60" y2="532.40" stroke="#444" stroke-width="0.85" />
<polygon points="324.00,532.40 328.00,531.30 328.00,533.50" fill="#333"/>
<polygon points="483.60,532.40 479.60,533.50 479.60,531.30" fill="#333"/>
<text x="395.50" y="530.50" font-size="9" text-anchor="start" fill="#333" font-weight="normal" textLength="16.5" lengthAdjust="spacingAndGlyphs" >425*</text>
<line x1="324.00" y1="530.00" x2="324.00" y2="580.00" stroke="#444" stroke-width="0.85" />
<line x1="324.00" y1="543.00" x2="483.60" y2="543.00" stroke="#1a1a1a" stroke-width="1.3" />
<line x1="324.00" y1="543.00" x2="324.00" y2="567.50" stroke="#1a1a1a" stroke-width="1.2" />
<line x1="483.60" y1="530.00" x2="483.60" y2="554.60" stroke="#2a2a2a" stroke-width="0.7" />
<line x1="305.00" y1="550.50" x2="350.00" y2="550.50" stroke="#444" stroke-width="0.6" />
<line x1="459.60" y1="550.50" x2="478.30" y2="550.50" stroke="#444" stroke-width="0.6" />
<line x1="305.00" y1="554.60" x2="483.60" y2="554.60" stroke="#555" stroke-width="0.6" />
<circle cx="329.50" cy="550.50" r="1.3" stroke="#222" stroke-width="0.6" fill="none"/>
<line x1="327.50" y1="550.50" x2="331.50" y2="550.50" stroke="#222" stroke-width="0.5" />
<line x1="329.50" y1="548.00" x2="329.50" y2="553.00" stroke="#222" stroke-width="0.5" />
<circle cx="347.60" cy="550.50" r="1.3" stroke="#222" stroke-width="0.6" fill="none"/>
<line x1="345.60" y1="550.50" x2="349.60" y2="550.50" stroke="#222" stroke-width="0.5" />
<line x1="347.60" y1="548.00" x2="347.60" y2="553.00" stroke="#222" stroke-width="0.5" />
<circle cx="459.60" cy="550.50" r="1.3" stroke="#222" stroke-width="0.6" fill="none"/>
<line x1="457.60" y1="550.50" x2="461.60" y2="550.50" stroke="#222" stroke-width="0.5" />
<line x1="459.60" y1="548.00" x2="459.60" y2="553.00" stroke="#222" stroke-width="0.5" />
<circle cx="478.30" cy="550.50" r="1.3" stroke="#222" stroke-width="0.6" fill="none"/>
<line x1="476.30" y1="550.50" x2="480.30" y2="550.50" stroke="#222" stroke-width="0.5" />
<line x1="478.30" y1="548.00" x2="478.30" y2="553.00" stroke="#222" stroke-width="0.5" />
<line x1="329.50" y1="550.50" x2="329.50" y2="567.50" stroke="#444" stroke-width="0.85" />
<line x1="347.60" y1="550.50" x2="347.60" y2="567.50" stroke="#444" stroke-width="0.85" />
<line x1="459.60" y1="550.50" x2="459.60" y2="567.50" stroke="#444" stroke-width="0.85" />
<line x1="478.30" y1="550.50" x2="478.30" y2="579.70" stroke="#444" stroke-width="0.85" />
<line x1="305.00" y1="527.00" x2="305.00" y2="566.00" stroke="#444" stroke-width="0.85" />
<polygon points="305.00,543.00 303.90,540.00 306.10,540.00" fill="#333"/>
<polygon points="305.00,555.00 306.10,558.00 303.90,558.00" fill="#333"/>
<text x="303.00" y="532.00" font-size="9" text-anchor="middle" fill="#333" font-weight="normal" transform="rotate(-90 303.00 532.00)" textLength="8.5" lengthAdjust="spacingAndGlyphs" >12</text>
<line x1="312.00" y1="567.50" x2="459.60" y2="567.50" stroke="#444" stroke-width="0.85" />
<polygon points="324.00,567.50 320.00,568.60 320.00,566.40" fill="#333"/>
<polygon points="329.50,567.50 333.50,566.40 333.50,568.60" fill="#333"/>
<polygon points="347.60,567.50 343.60,568.60 343.60,566.40" fill="#333"/>
<polygon points="355.00,567.50 358.50,566.40 358.50,568.60" fill="#333"/>
<polygon points="459.60,567.50 455.60,568.60 455.60,566.40" fill="#333"/>
<text x="308.00" y="565.50" font-size="9" text-anchor="start" fill="#333" font-weight="normal" textLength="8.5" lengthAdjust="spacingAndGlyphs" >15</text>
<text x="334.00" y="565.50" font-size="9" text-anchor="start" fill="#333" font-weight="normal" textLength="9" lengthAdjust="spacingAndGlyphs" >48</text>
<text x="397.00" y="565.50" font-size="9" text-anchor="start" fill="#333" font-weight="normal" textLength="13" lengthAdjust="spacingAndGlyphs" >299</text>
<line x1="324.00" y1="579.70" x2="478.30" y2="579.70" stroke="#444" stroke-width="0.85" />
<polygon points="324.00,579.70 328.00,578.60 328.00,580.80" fill="#333"/>
<polygon points="478.30,579.70 474.30,580.80 474.30,578.60" fill="#333"/>
<text x="394.00" y="578.50" font-size="9" text-anchor="start" fill="#333" font-weight="normal" textLength="13" lengthAdjust="spacingAndGlyphs" >410</text>
</svg></body></html>
